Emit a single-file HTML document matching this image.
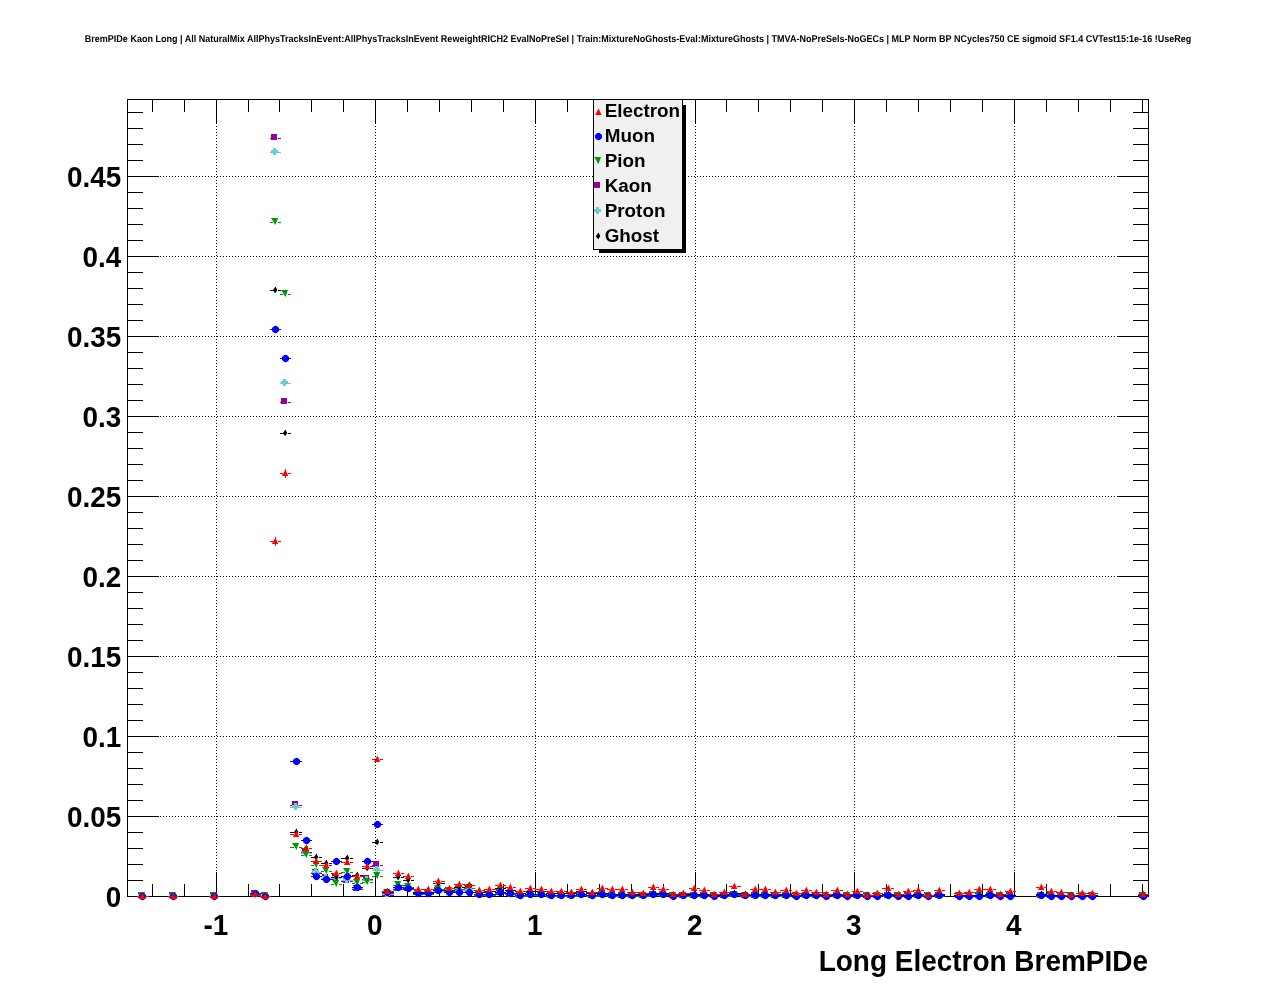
<!DOCTYPE html>
<html><head><meta charset="utf-8"><title>BremPIDe Kaon Long</title>
<style>
html,body{margin:0;padding:0;background:#fff;}
body{width:1276px;height:996px;overflow:hidden;}
svg{display:block;font-family:"Liberation Sans",sans-serif;will-change:transform;}
</style></head><body>
<svg width="1276" height="996" viewBox="0 0 1276 996">
<rect x="0" y="0" width="1276" height="996" fill="#ffffff"/>
<g shape-rendering="crispEdges" stroke="#000" stroke-width="1" stroke-dasharray="1 2">
<line x1="127" y1="816.5" x2="1149" y2="816.5"/>
<line x1="127" y1="736.5" x2="1149" y2="736.5"/>
<line x1="127" y1="656.5" x2="1149" y2="656.5"/>
<line x1="127" y1="576.5" x2="1149" y2="576.5"/>
<line x1="127" y1="496.5" x2="1149" y2="496.5"/>
<line x1="127" y1="416.5" x2="1149" y2="416.5"/>
<line x1="127" y1="336.5" x2="1149" y2="336.5"/>
<line x1="127" y1="256.5" x2="1149" y2="256.5"/>
<line x1="127" y1="176.5" x2="1149" y2="176.5"/>
<line x1="216.5" y1="99" x2="216.5" y2="897"/>
<line x1="375.5" y1="99" x2="375.5" y2="897"/>
<line x1="535.5" y1="99" x2="535.5" y2="897"/>
<line x1="695.5" y1="99" x2="695.5" y2="897"/>
<line x1="854.5" y1="99" x2="854.5" y2="897"/>
<line x1="1014.5" y1="99" x2="1014.5" y2="897"/>
</g>
<g shape-rendering="crispEdges" fill="#000">
<rect x="127" y="99" width="1022" height="1" fill="#000"/>
<rect x="127" y="896" width="1022" height="1" fill="#000"/>
<rect x="127" y="99" width="1" height="798" fill="#000"/>
<rect x="1148" y="99" width="1" height="798" fill="#000"/>
<rect x="152" y="884" width="1" height="12" fill="#000"/>
<rect x="152" y="100" width="1" height="12" fill="#000"/>
<rect x="184" y="884" width="1" height="12" fill="#000"/>
<rect x="184" y="100" width="1" height="12" fill="#000"/>
<rect x="216" y="872" width="1" height="24" fill="#000"/>
<rect x="216" y="100" width="1" height="24" fill="#000"/>
<rect x="248" y="884" width="1" height="12" fill="#000"/>
<rect x="248" y="100" width="1" height="12" fill="#000"/>
<rect x="279" y="884" width="1" height="12" fill="#000"/>
<rect x="279" y="100" width="1" height="12" fill="#000"/>
<rect x="311" y="884" width="1" height="12" fill="#000"/>
<rect x="311" y="100" width="1" height="12" fill="#000"/>
<rect x="343" y="884" width="1" height="12" fill="#000"/>
<rect x="343" y="100" width="1" height="12" fill="#000"/>
<rect x="375" y="872" width="1" height="24" fill="#000"/>
<rect x="375" y="100" width="1" height="24" fill="#000"/>
<rect x="407" y="884" width="1" height="12" fill="#000"/>
<rect x="407" y="100" width="1" height="12" fill="#000"/>
<rect x="439" y="884" width="1" height="12" fill="#000"/>
<rect x="439" y="100" width="1" height="12" fill="#000"/>
<rect x="471" y="884" width="1" height="12" fill="#000"/>
<rect x="471" y="100" width="1" height="12" fill="#000"/>
<rect x="503" y="884" width="1" height="12" fill="#000"/>
<rect x="503" y="100" width="1" height="12" fill="#000"/>
<rect x="535" y="872" width="1" height="24" fill="#000"/>
<rect x="535" y="100" width="1" height="24" fill="#000"/>
<rect x="567" y="884" width="1" height="12" fill="#000"/>
<rect x="567" y="100" width="1" height="12" fill="#000"/>
<rect x="599" y="884" width="1" height="12" fill="#000"/>
<rect x="599" y="100" width="1" height="12" fill="#000"/>
<rect x="631" y="884" width="1" height="12" fill="#000"/>
<rect x="631" y="100" width="1" height="12" fill="#000"/>
<rect x="663" y="884" width="1" height="12" fill="#000"/>
<rect x="663" y="100" width="1" height="12" fill="#000"/>
<rect x="695" y="872" width="1" height="24" fill="#000"/>
<rect x="695" y="100" width="1" height="24" fill="#000"/>
<rect x="726" y="884" width="1" height="12" fill="#000"/>
<rect x="726" y="100" width="1" height="12" fill="#000"/>
<rect x="758" y="884" width="1" height="12" fill="#000"/>
<rect x="758" y="100" width="1" height="12" fill="#000"/>
<rect x="790" y="884" width="1" height="12" fill="#000"/>
<rect x="790" y="100" width="1" height="12" fill="#000"/>
<rect x="822" y="884" width="1" height="12" fill="#000"/>
<rect x="822" y="100" width="1" height="12" fill="#000"/>
<rect x="854" y="872" width="1" height="24" fill="#000"/>
<rect x="854" y="100" width="1" height="24" fill="#000"/>
<rect x="886" y="884" width="1" height="12" fill="#000"/>
<rect x="886" y="100" width="1" height="12" fill="#000"/>
<rect x="918" y="884" width="1" height="12" fill="#000"/>
<rect x="918" y="100" width="1" height="12" fill="#000"/>
<rect x="950" y="884" width="1" height="12" fill="#000"/>
<rect x="950" y="100" width="1" height="12" fill="#000"/>
<rect x="982" y="884" width="1" height="12" fill="#000"/>
<rect x="982" y="100" width="1" height="12" fill="#000"/>
<rect x="1014" y="872" width="1" height="24" fill="#000"/>
<rect x="1014" y="100" width="1" height="24" fill="#000"/>
<rect x="1046" y="884" width="1" height="12" fill="#000"/>
<rect x="1046" y="100" width="1" height="12" fill="#000"/>
<rect x="1078" y="884" width="1" height="12" fill="#000"/>
<rect x="1078" y="100" width="1" height="12" fill="#000"/>
<rect x="1110" y="884" width="1" height="12" fill="#000"/>
<rect x="1110" y="100" width="1" height="12" fill="#000"/>
<rect x="1142" y="884" width="1" height="12" fill="#000"/>
<rect x="1142" y="100" width="1" height="12" fill="#000"/>
<rect x="128" y="896" width="31" height="1" fill="#000"/>
<rect x="1117" y="896" width="31" height="1" fill="#000"/>
<rect x="128" y="880" width="15" height="1" fill="#000"/>
<rect x="1133" y="880" width="15" height="1" fill="#000"/>
<rect x="128" y="864" width="15" height="1" fill="#000"/>
<rect x="1133" y="864" width="15" height="1" fill="#000"/>
<rect x="128" y="848" width="15" height="1" fill="#000"/>
<rect x="1133" y="848" width="15" height="1" fill="#000"/>
<rect x="128" y="832" width="15" height="1" fill="#000"/>
<rect x="1133" y="832" width="15" height="1" fill="#000"/>
<rect x="128" y="816" width="31" height="1" fill="#000"/>
<rect x="1117" y="816" width="31" height="1" fill="#000"/>
<rect x="128" y="800" width="15" height="1" fill="#000"/>
<rect x="1133" y="800" width="15" height="1" fill="#000"/>
<rect x="128" y="784" width="15" height="1" fill="#000"/>
<rect x="1133" y="784" width="15" height="1" fill="#000"/>
<rect x="128" y="768" width="15" height="1" fill="#000"/>
<rect x="1133" y="768" width="15" height="1" fill="#000"/>
<rect x="128" y="752" width="15" height="1" fill="#000"/>
<rect x="1133" y="752" width="15" height="1" fill="#000"/>
<rect x="128" y="736" width="31" height="1" fill="#000"/>
<rect x="1117" y="736" width="31" height="1" fill="#000"/>
<rect x="128" y="720" width="15" height="1" fill="#000"/>
<rect x="1133" y="720" width="15" height="1" fill="#000"/>
<rect x="128" y="704" width="15" height="1" fill="#000"/>
<rect x="1133" y="704" width="15" height="1" fill="#000"/>
<rect x="128" y="688" width="15" height="1" fill="#000"/>
<rect x="1133" y="688" width="15" height="1" fill="#000"/>
<rect x="128" y="672" width="15" height="1" fill="#000"/>
<rect x="1133" y="672" width="15" height="1" fill="#000"/>
<rect x="128" y="656" width="31" height="1" fill="#000"/>
<rect x="1117" y="656" width="31" height="1" fill="#000"/>
<rect x="128" y="640" width="15" height="1" fill="#000"/>
<rect x="1133" y="640" width="15" height="1" fill="#000"/>
<rect x="128" y="624" width="15" height="1" fill="#000"/>
<rect x="1133" y="624" width="15" height="1" fill="#000"/>
<rect x="128" y="608" width="15" height="1" fill="#000"/>
<rect x="1133" y="608" width="15" height="1" fill="#000"/>
<rect x="128" y="592" width="15" height="1" fill="#000"/>
<rect x="1133" y="592" width="15" height="1" fill="#000"/>
<rect x="128" y="576" width="31" height="1" fill="#000"/>
<rect x="1117" y="576" width="31" height="1" fill="#000"/>
<rect x="128" y="560" width="15" height="1" fill="#000"/>
<rect x="1133" y="560" width="15" height="1" fill="#000"/>
<rect x="128" y="544" width="15" height="1" fill="#000"/>
<rect x="1133" y="544" width="15" height="1" fill="#000"/>
<rect x="128" y="528" width="15" height="1" fill="#000"/>
<rect x="1133" y="528" width="15" height="1" fill="#000"/>
<rect x="128" y="512" width="15" height="1" fill="#000"/>
<rect x="1133" y="512" width="15" height="1" fill="#000"/>
<rect x="128" y="496" width="31" height="1" fill="#000"/>
<rect x="1117" y="496" width="31" height="1" fill="#000"/>
<rect x="128" y="480" width="15" height="1" fill="#000"/>
<rect x="1133" y="480" width="15" height="1" fill="#000"/>
<rect x="128" y="464" width="15" height="1" fill="#000"/>
<rect x="1133" y="464" width="15" height="1" fill="#000"/>
<rect x="128" y="448" width="15" height="1" fill="#000"/>
<rect x="1133" y="448" width="15" height="1" fill="#000"/>
<rect x="128" y="432" width="15" height="1" fill="#000"/>
<rect x="1133" y="432" width="15" height="1" fill="#000"/>
<rect x="128" y="416" width="31" height="1" fill="#000"/>
<rect x="1117" y="416" width="31" height="1" fill="#000"/>
<rect x="128" y="400" width="15" height="1" fill="#000"/>
<rect x="1133" y="400" width="15" height="1" fill="#000"/>
<rect x="128" y="384" width="15" height="1" fill="#000"/>
<rect x="1133" y="384" width="15" height="1" fill="#000"/>
<rect x="128" y="368" width="15" height="1" fill="#000"/>
<rect x="1133" y="368" width="15" height="1" fill="#000"/>
<rect x="128" y="352" width="15" height="1" fill="#000"/>
<rect x="1133" y="352" width="15" height="1" fill="#000"/>
<rect x="128" y="336" width="31" height="1" fill="#000"/>
<rect x="1117" y="336" width="31" height="1" fill="#000"/>
<rect x="128" y="320" width="15" height="1" fill="#000"/>
<rect x="1133" y="320" width="15" height="1" fill="#000"/>
<rect x="128" y="304" width="15" height="1" fill="#000"/>
<rect x="1133" y="304" width="15" height="1" fill="#000"/>
<rect x="128" y="288" width="15" height="1" fill="#000"/>
<rect x="1133" y="288" width="15" height="1" fill="#000"/>
<rect x="128" y="272" width="15" height="1" fill="#000"/>
<rect x="1133" y="272" width="15" height="1" fill="#000"/>
<rect x="128" y="256" width="31" height="1" fill="#000"/>
<rect x="1117" y="256" width="31" height="1" fill="#000"/>
<rect x="128" y="240" width="15" height="1" fill="#000"/>
<rect x="1133" y="240" width="15" height="1" fill="#000"/>
<rect x="128" y="224" width="15" height="1" fill="#000"/>
<rect x="1133" y="224" width="15" height="1" fill="#000"/>
<rect x="128" y="208" width="15" height="1" fill="#000"/>
<rect x="1133" y="208" width="15" height="1" fill="#000"/>
<rect x="128" y="192" width="15" height="1" fill="#000"/>
<rect x="1133" y="192" width="15" height="1" fill="#000"/>
<rect x="128" y="176" width="31" height="1" fill="#000"/>
<rect x="1117" y="176" width="31" height="1" fill="#000"/>
<rect x="128" y="160" width="15" height="1" fill="#000"/>
<rect x="1133" y="160" width="15" height="1" fill="#000"/>
<rect x="128" y="144" width="15" height="1" fill="#000"/>
<rect x="1133" y="144" width="15" height="1" fill="#000"/>
<rect x="128" y="128" width="15" height="1" fill="#000"/>
<rect x="1133" y="128" width="15" height="1" fill="#000"/>
<rect x="128" y="112" width="15" height="1" fill="#000"/>
<rect x="1133" y="112" width="15" height="1" fill="#000"/>
</g>
<g id="sK">
<rect x="137" y="896" width="3" height="1" fill="#990099" shape-rendering="crispEdges"/><rect x="145" y="896" width="4" height="1" fill="#990099" shape-rendering="crispEdges"/>
<rect x="138" y="892" width="6" height="6" fill="#990099" shape-rendering="crispEdges"/>
<rect x="168" y="896" width="3" height="1" fill="#990099" shape-rendering="crispEdges"/><rect x="176" y="896" width="3" height="1" fill="#990099" shape-rendering="crispEdges"/>
<rect x="169" y="892" width="6" height="6" fill="#990099" shape-rendering="crispEdges"/>
<rect x="209" y="896" width="3" height="1" fill="#990099" shape-rendering="crispEdges"/><rect x="217" y="896" width="3" height="1" fill="#990099" shape-rendering="crispEdges"/>
<rect x="210" y="892" width="6" height="6" fill="#990099" shape-rendering="crispEdges"/>
<rect x="250" y="894" width="3" height="1" fill="#990099" shape-rendering="crispEdges"/><rect x="258" y="894" width="3" height="1" fill="#990099" shape-rendering="crispEdges"/>
<rect x="251" y="890" width="6" height="6" fill="#990099" shape-rendering="crispEdges"/>
<rect x="260" y="896" width="3" height="1" fill="#990099" shape-rendering="crispEdges"/><rect x="268" y="896" width="3" height="1" fill="#990099" shape-rendering="crispEdges"/>
<rect x="261" y="892" width="6" height="6" fill="#990099" shape-rendering="crispEdges"/>
<rect x="270" y="138" width="3" height="1" fill="#990099" shape-rendering="crispEdges"/><rect x="278" y="138" width="3" height="1" fill="#990099" shape-rendering="crispEdges"/>
<rect x="271" y="134" width="6" height="6" fill="#990099" shape-rendering="crispEdges"/>
<rect x="280" y="402" width="3" height="1" fill="#990099" shape-rendering="crispEdges"/><rect x="288" y="402" width="3" height="1" fill="#990099" shape-rendering="crispEdges"/>
<rect x="281" y="398" width="6" height="6" fill="#990099" shape-rendering="crispEdges"/>
<rect x="290" y="805" width="4" height="1" fill="#990099" shape-rendering="crispEdges"/><rect x="299" y="805" width="3" height="1" fill="#990099" shape-rendering="crispEdges"/>
<rect x="292" y="801" width="6" height="6" fill="#990099" shape-rendering="crispEdges"/>
<rect x="301" y="852" width="3" height="1" fill="#990099" shape-rendering="crispEdges"/><rect x="309" y="852" width="3" height="1" fill="#990099" shape-rendering="crispEdges"/>
<rect x="302" y="848" width="6" height="6" fill="#990099" shape-rendering="crispEdges"/>
<rect x="311" y="873" width="3" height="1" fill="#990099" shape-rendering="crispEdges"/><rect x="319" y="873" width="3" height="1" fill="#990099" shape-rendering="crispEdges"/>
<rect x="312" y="869" width="6" height="6" fill="#990099" shape-rendering="crispEdges"/>
<rect x="321" y="878" width="3" height="1" fill="#990099" shape-rendering="crispEdges"/><rect x="329" y="878" width="3" height="1" fill="#990099" shape-rendering="crispEdges"/>
<rect x="322" y="874" width="6" height="6" fill="#990099" shape-rendering="crispEdges"/>
<rect x="331" y="878" width="3" height="1" fill="#990099" shape-rendering="crispEdges"/><rect x="339" y="878" width="3" height="1" fill="#990099" shape-rendering="crispEdges"/>
<rect x="332" y="874" width="6" height="6" fill="#990099" shape-rendering="crispEdges"/>
<rect x="341" y="881" width="4" height="1" fill="#990099" shape-rendering="crispEdges"/><rect x="350" y="881" width="3" height="1" fill="#990099" shape-rendering="crispEdges"/>
<rect x="343" y="877" width="6" height="6" fill="#990099" shape-rendering="crispEdges"/>
<rect x="352" y="889" width="3" height="1" fill="#990099" shape-rendering="crispEdges"/><rect x="360" y="889" width="3" height="1" fill="#990099" shape-rendering="crispEdges"/>
<rect x="353" y="885" width="6" height="6" fill="#990099" shape-rendering="crispEdges"/>
<rect x="362" y="879" width="3" height="1" fill="#990099" shape-rendering="crispEdges"/><rect x="370" y="879" width="3" height="1" fill="#990099" shape-rendering="crispEdges"/>
<rect x="363" y="875" width="6" height="6" fill="#990099" shape-rendering="crispEdges"/>
<rect x="372" y="865" width="3" height="1" fill="#990099" shape-rendering="crispEdges"/><rect x="380" y="865" width="3" height="1" fill="#990099" shape-rendering="crispEdges"/>
<rect x="373" y="861" width="6" height="6" fill="#990099" shape-rendering="crispEdges"/>
<rect x="382" y="895" width="3" height="1" fill="#990099" shape-rendering="crispEdges"/><rect x="390" y="895" width="4" height="1" fill="#990099" shape-rendering="crispEdges"/>
<rect x="383" y="891" width="6" height="6" fill="#990099" shape-rendering="crispEdges"/>
<rect x="393" y="889" width="3" height="1" fill="#990099" shape-rendering="crispEdges"/><rect x="401" y="889" width="3" height="1" fill="#990099" shape-rendering="crispEdges"/>
<rect x="394" y="885" width="6" height="6" fill="#990099" shape-rendering="crispEdges"/>
<rect x="403" y="889" width="3" height="1" fill="#990099" shape-rendering="crispEdges"/><rect x="411" y="889" width="3" height="1" fill="#990099" shape-rendering="crispEdges"/>
<rect x="404" y="885" width="6" height="6" fill="#990099" shape-rendering="crispEdges"/>
<rect x="413" y="893" width="3" height="1" fill="#990099" shape-rendering="crispEdges"/><rect x="421" y="893" width="3" height="1" fill="#990099" shape-rendering="crispEdges"/>
<rect x="414" y="889" width="6" height="6" fill="#990099" shape-rendering="crispEdges"/>
<rect x="423" y="893" width="3" height="1" fill="#990099" shape-rendering="crispEdges"/><rect x="431" y="893" width="3" height="1" fill="#990099" shape-rendering="crispEdges"/>
<rect x="424" y="889" width="6" height="6" fill="#990099" shape-rendering="crispEdges"/>
<rect x="433" y="891" width="3" height="1" fill="#990099" shape-rendering="crispEdges"/><rect x="441" y="891" width="4" height="1" fill="#990099" shape-rendering="crispEdges"/>
<rect x="434" y="887" width="6" height="6" fill="#990099" shape-rendering="crispEdges"/>
<rect x="444" y="891" width="3" height="1" fill="#990099" shape-rendering="crispEdges"/><rect x="452" y="891" width="3" height="1" fill="#990099" shape-rendering="crispEdges"/>
<rect x="445" y="887" width="6" height="6" fill="#990099" shape-rendering="crispEdges"/>
<rect x="454" y="890" width="3" height="1" fill="#990099" shape-rendering="crispEdges"/><rect x="462" y="890" width="3" height="1" fill="#990099" shape-rendering="crispEdges"/>
<rect x="455" y="886" width="6" height="6" fill="#990099" shape-rendering="crispEdges"/>
<rect x="464" y="890" width="3" height="1" fill="#990099" shape-rendering="crispEdges"/><rect x="472" y="890" width="3" height="1" fill="#990099" shape-rendering="crispEdges"/>
<rect x="465" y="886" width="6" height="6" fill="#990099" shape-rendering="crispEdges"/>
<rect x="474" y="895" width="3" height="1" fill="#990099" shape-rendering="crispEdges"/><rect x="482" y="895" width="3" height="1" fill="#990099" shape-rendering="crispEdges"/>
<rect x="475" y="891" width="6" height="6" fill="#990099" shape-rendering="crispEdges"/>
<rect x="484" y="895" width="3" height="1" fill="#990099" shape-rendering="crispEdges"/><rect x="492" y="895" width="4" height="1" fill="#990099" shape-rendering="crispEdges"/>
<rect x="485" y="891" width="6" height="6" fill="#990099" shape-rendering="crispEdges"/>
<rect x="495" y="893" width="3" height="1" fill="#990099" shape-rendering="crispEdges"/><rect x="503" y="893" width="3" height="1" fill="#990099" shape-rendering="crispEdges"/>
<rect x="496" y="889" width="6" height="6" fill="#990099" shape-rendering="crispEdges"/>
<rect x="505" y="894" width="3" height="1" fill="#990099" shape-rendering="crispEdges"/><rect x="513" y="894" width="3" height="1" fill="#990099" shape-rendering="crispEdges"/>
<rect x="506" y="890" width="6" height="6" fill="#990099" shape-rendering="crispEdges"/>
<rect x="515" y="896" width="3" height="1" fill="#990099" shape-rendering="crispEdges"/><rect x="523" y="896" width="3" height="1" fill="#990099" shape-rendering="crispEdges"/>
<rect x="516" y="892" width="6" height="6" fill="#990099" shape-rendering="crispEdges"/>
<rect x="525" y="895" width="3" height="1" fill="#990099" shape-rendering="crispEdges"/><rect x="533" y="895" width="3" height="1" fill="#990099" shape-rendering="crispEdges"/>
<rect x="526" y="891" width="6" height="6" fill="#990099" shape-rendering="crispEdges"/>
<rect x="535" y="895" width="4" height="1" fill="#990099" shape-rendering="crispEdges"/><rect x="544" y="895" width="3" height="1" fill="#990099" shape-rendering="crispEdges"/>
<rect x="537" y="891" width="6" height="6" fill="#990099" shape-rendering="crispEdges"/>
<rect x="546" y="896" width="3" height="1" fill="#990099" shape-rendering="crispEdges"/><rect x="554" y="896" width="3" height="1" fill="#990099" shape-rendering="crispEdges"/>
<rect x="547" y="892" width="6" height="6" fill="#990099" shape-rendering="crispEdges"/>
<rect x="556" y="896" width="3" height="1" fill="#990099" shape-rendering="crispEdges"/><rect x="564" y="896" width="3" height="1" fill="#990099" shape-rendering="crispEdges"/>
<rect x="557" y="892" width="6" height="6" fill="#990099" shape-rendering="crispEdges"/>
<rect x="566" y="896" width="3" height="1" fill="#990099" shape-rendering="crispEdges"/><rect x="574" y="896" width="3" height="1" fill="#990099" shape-rendering="crispEdges"/>
<rect x="567" y="892" width="6" height="6" fill="#990099" shape-rendering="crispEdges"/>
<rect x="576" y="895" width="3" height="1" fill="#990099" shape-rendering="crispEdges"/><rect x="584" y="895" width="3" height="1" fill="#990099" shape-rendering="crispEdges"/>
<rect x="577" y="891" width="6" height="6" fill="#990099" shape-rendering="crispEdges"/>
<rect x="586" y="896" width="4" height="1" fill="#990099" shape-rendering="crispEdges"/><rect x="595" y="896" width="3" height="1" fill="#990099" shape-rendering="crispEdges"/>
<rect x="588" y="892" width="6" height="6" fill="#990099" shape-rendering="crispEdges"/>
<rect x="597" y="895" width="3" height="1" fill="#990099" shape-rendering="crispEdges"/><rect x="605" y="895" width="3" height="1" fill="#990099" shape-rendering="crispEdges"/>
<rect x="598" y="891" width="6" height="6" fill="#990099" shape-rendering="crispEdges"/>
<rect x="607" y="896" width="3" height="1" fill="#990099" shape-rendering="crispEdges"/><rect x="615" y="896" width="3" height="1" fill="#990099" shape-rendering="crispEdges"/>
<rect x="608" y="892" width="6" height="6" fill="#990099" shape-rendering="crispEdges"/>
<rect x="617" y="896" width="3" height="1" fill="#990099" shape-rendering="crispEdges"/><rect x="625" y="896" width="3" height="1" fill="#990099" shape-rendering="crispEdges"/>
<rect x="618" y="892" width="6" height="6" fill="#990099" shape-rendering="crispEdges"/>
<rect x="627" y="896" width="3" height="1" fill="#990099" shape-rendering="crispEdges"/><rect x="635" y="896" width="4" height="1" fill="#990099" shape-rendering="crispEdges"/>
<rect x="628" y="892" width="6" height="6" fill="#990099" shape-rendering="crispEdges"/>
<rect x="638" y="896" width="3" height="1" fill="#990099" shape-rendering="crispEdges"/><rect x="646" y="896" width="3" height="1" fill="#990099" shape-rendering="crispEdges"/>
<rect x="639" y="892" width="6" height="6" fill="#990099" shape-rendering="crispEdges"/>
<rect x="648" y="895" width="3" height="1" fill="#990099" shape-rendering="crispEdges"/><rect x="656" y="895" width="3" height="1" fill="#990099" shape-rendering="crispEdges"/>
<rect x="649" y="891" width="6" height="6" fill="#990099" shape-rendering="crispEdges"/>
<rect x="658" y="895" width="3" height="1" fill="#990099" shape-rendering="crispEdges"/><rect x="666" y="895" width="3" height="1" fill="#990099" shape-rendering="crispEdges"/>
<rect x="659" y="891" width="6" height="6" fill="#990099" shape-rendering="crispEdges"/>
<rect x="668" y="896" width="3" height="1" fill="#990099" shape-rendering="crispEdges"/><rect x="676" y="896" width="3" height="1" fill="#990099" shape-rendering="crispEdges"/>
<rect x="669" y="892" width="6" height="6" fill="#990099" shape-rendering="crispEdges"/>
<rect x="678" y="896" width="3" height="1" fill="#990099" shape-rendering="crispEdges"/><rect x="686" y="896" width="4" height="1" fill="#990099" shape-rendering="crispEdges"/>
<rect x="679" y="892" width="6" height="6" fill="#990099" shape-rendering="crispEdges"/>
<rect x="689" y="896" width="3" height="1" fill="#990099" shape-rendering="crispEdges"/><rect x="697" y="896" width="3" height="1" fill="#990099" shape-rendering="crispEdges"/>
<rect x="690" y="892" width="6" height="6" fill="#990099" shape-rendering="crispEdges"/>
<rect x="699" y="896" width="3" height="1" fill="#990099" shape-rendering="crispEdges"/><rect x="707" y="896" width="3" height="1" fill="#990099" shape-rendering="crispEdges"/>
<rect x="700" y="892" width="6" height="6" fill="#990099" shape-rendering="crispEdges"/>
<rect x="709" y="896" width="3" height="1" fill="#990099" shape-rendering="crispEdges"/><rect x="717" y="896" width="3" height="1" fill="#990099" shape-rendering="crispEdges"/>
<rect x="710" y="892" width="6" height="6" fill="#990099" shape-rendering="crispEdges"/>
<rect x="719" y="896" width="3" height="1" fill="#990099" shape-rendering="crispEdges"/><rect x="727" y="896" width="3" height="1" fill="#990099" shape-rendering="crispEdges"/>
<rect x="720" y="892" width="6" height="6" fill="#990099" shape-rendering="crispEdges"/>
<rect x="729" y="895" width="3" height="1" fill="#990099" shape-rendering="crispEdges"/><rect x="737" y="895" width="4" height="1" fill="#990099" shape-rendering="crispEdges"/>
<rect x="730" y="891" width="6" height="6" fill="#990099" shape-rendering="crispEdges"/>
<rect x="740" y="896" width="3" height="1" fill="#990099" shape-rendering="crispEdges"/><rect x="748" y="896" width="3" height="1" fill="#990099" shape-rendering="crispEdges"/>
<rect x="741" y="892" width="6" height="6" fill="#990099" shape-rendering="crispEdges"/>
<rect x="750" y="896" width="3" height="1" fill="#990099" shape-rendering="crispEdges"/><rect x="758" y="896" width="3" height="1" fill="#990099" shape-rendering="crispEdges"/>
<rect x="751" y="892" width="6" height="6" fill="#990099" shape-rendering="crispEdges"/>
<rect x="760" y="896" width="3" height="1" fill="#990099" shape-rendering="crispEdges"/><rect x="768" y="896" width="3" height="1" fill="#990099" shape-rendering="crispEdges"/>
<rect x="761" y="892" width="6" height="6" fill="#990099" shape-rendering="crispEdges"/>
<rect x="770" y="896" width="3" height="1" fill="#990099" shape-rendering="crispEdges"/><rect x="778" y="896" width="3" height="1" fill="#990099" shape-rendering="crispEdges"/>
<rect x="771" y="892" width="6" height="6" fill="#990099" shape-rendering="crispEdges"/>
<rect x="780" y="896" width="4" height="1" fill="#990099" shape-rendering="crispEdges"/><rect x="789" y="896" width="3" height="1" fill="#990099" shape-rendering="crispEdges"/>
<rect x="782" y="892" width="6" height="6" fill="#990099" shape-rendering="crispEdges"/>
<rect x="791" y="896" width="3" height="1" fill="#990099" shape-rendering="crispEdges"/><rect x="799" y="896" width="3" height="1" fill="#990099" shape-rendering="crispEdges"/>
<rect x="792" y="892" width="6" height="6" fill="#990099" shape-rendering="crispEdges"/>
<rect x="801" y="896" width="3" height="1" fill="#990099" shape-rendering="crispEdges"/><rect x="809" y="896" width="3" height="1" fill="#990099" shape-rendering="crispEdges"/>
<rect x="802" y="892" width="6" height="6" fill="#990099" shape-rendering="crispEdges"/>
<rect x="811" y="896" width="3" height="1" fill="#990099" shape-rendering="crispEdges"/><rect x="819" y="896" width="3" height="1" fill="#990099" shape-rendering="crispEdges"/>
<rect x="812" y="892" width="6" height="6" fill="#990099" shape-rendering="crispEdges"/>
<rect x="821" y="896" width="3" height="1" fill="#990099" shape-rendering="crispEdges"/><rect x="829" y="896" width="3" height="1" fill="#990099" shape-rendering="crispEdges"/>
<rect x="822" y="892" width="6" height="6" fill="#990099" shape-rendering="crispEdges"/>
<rect x="831" y="896" width="4" height="1" fill="#990099" shape-rendering="crispEdges"/><rect x="840" y="896" width="3" height="1" fill="#990099" shape-rendering="crispEdges"/>
<rect x="833" y="892" width="6" height="6" fill="#990099" shape-rendering="crispEdges"/>
<rect x="842" y="896" width="3" height="1" fill="#990099" shape-rendering="crispEdges"/><rect x="850" y="896" width="3" height="1" fill="#990099" shape-rendering="crispEdges"/>
<rect x="843" y="892" width="6" height="6" fill="#990099" shape-rendering="crispEdges"/>
<rect x="852" y="896" width="3" height="1" fill="#990099" shape-rendering="crispEdges"/><rect x="860" y="896" width="3" height="1" fill="#990099" shape-rendering="crispEdges"/>
<rect x="853" y="892" width="6" height="6" fill="#990099" shape-rendering="crispEdges"/>
<rect x="862" y="896" width="3" height="1" fill="#990099" shape-rendering="crispEdges"/><rect x="870" y="896" width="3" height="1" fill="#990099" shape-rendering="crispEdges"/>
<rect x="863" y="892" width="6" height="6" fill="#990099" shape-rendering="crispEdges"/>
<rect x="872" y="896" width="3" height="1" fill="#990099" shape-rendering="crispEdges"/><rect x="880" y="896" width="3" height="1" fill="#990099" shape-rendering="crispEdges"/>
<rect x="873" y="892" width="6" height="6" fill="#990099" shape-rendering="crispEdges"/>
<rect x="882" y="896" width="4" height="1" fill="#990099" shape-rendering="crispEdges"/><rect x="891" y="896" width="3" height="1" fill="#990099" shape-rendering="crispEdges"/>
<rect x="884" y="892" width="6" height="6" fill="#990099" shape-rendering="crispEdges"/>
<rect x="893" y="896" width="3" height="1" fill="#990099" shape-rendering="crispEdges"/><rect x="901" y="896" width="3" height="1" fill="#990099" shape-rendering="crispEdges"/>
<rect x="894" y="892" width="6" height="6" fill="#990099" shape-rendering="crispEdges"/>
<rect x="903" y="896" width="3" height="1" fill="#990099" shape-rendering="crispEdges"/><rect x="911" y="896" width="3" height="1" fill="#990099" shape-rendering="crispEdges"/>
<rect x="904" y="892" width="6" height="6" fill="#990099" shape-rendering="crispEdges"/>
<rect x="913" y="896" width="3" height="1" fill="#990099" shape-rendering="crispEdges"/><rect x="921" y="896" width="3" height="1" fill="#990099" shape-rendering="crispEdges"/>
<rect x="914" y="892" width="6" height="6" fill="#990099" shape-rendering="crispEdges"/>
<rect x="923" y="896" width="3" height="1" fill="#990099" shape-rendering="crispEdges"/><rect x="931" y="896" width="4" height="1" fill="#990099" shape-rendering="crispEdges"/>
<rect x="924" y="892" width="6" height="6" fill="#990099" shape-rendering="crispEdges"/>
<rect x="934" y="896" width="3" height="1" fill="#990099" shape-rendering="crispEdges"/><rect x="942" y="896" width="3" height="1" fill="#990099" shape-rendering="crispEdges"/>
<rect x="935" y="892" width="6" height="6" fill="#990099" shape-rendering="crispEdges"/>
<rect x="954" y="896" width="3" height="1" fill="#990099" shape-rendering="crispEdges"/><rect x="962" y="896" width="3" height="1" fill="#990099" shape-rendering="crispEdges"/>
<rect x="955" y="892" width="6" height="6" fill="#990099" shape-rendering="crispEdges"/>
<rect x="964" y="896" width="3" height="1" fill="#990099" shape-rendering="crispEdges"/><rect x="972" y="896" width="3" height="1" fill="#990099" shape-rendering="crispEdges"/>
<rect x="965" y="892" width="6" height="6" fill="#990099" shape-rendering="crispEdges"/>
<rect x="974" y="896" width="3" height="1" fill="#990099" shape-rendering="crispEdges"/><rect x="982" y="896" width="4" height="1" fill="#990099" shape-rendering="crispEdges"/>
<rect x="975" y="892" width="6" height="6" fill="#990099" shape-rendering="crispEdges"/>
<rect x="985" y="896" width="3" height="1" fill="#990099" shape-rendering="crispEdges"/><rect x="993" y="896" width="3" height="1" fill="#990099" shape-rendering="crispEdges"/>
<rect x="986" y="892" width="6" height="6" fill="#990099" shape-rendering="crispEdges"/>
<rect x="995" y="896" width="3" height="1" fill="#990099" shape-rendering="crispEdges"/><rect x="1003" y="896" width="3" height="1" fill="#990099" shape-rendering="crispEdges"/>
<rect x="996" y="892" width="6" height="6" fill="#990099" shape-rendering="crispEdges"/>
<rect x="1005" y="896" width="3" height="1" fill="#990099" shape-rendering="crispEdges"/><rect x="1013" y="896" width="3" height="1" fill="#990099" shape-rendering="crispEdges"/>
<rect x="1006" y="892" width="6" height="6" fill="#990099" shape-rendering="crispEdges"/>
<rect x="1036" y="896" width="3" height="1" fill="#990099" shape-rendering="crispEdges"/><rect x="1044" y="896" width="3" height="1" fill="#990099" shape-rendering="crispEdges"/>
<rect x="1037" y="892" width="6" height="6" fill="#990099" shape-rendering="crispEdges"/>
<rect x="1046" y="896" width="3" height="1" fill="#990099" shape-rendering="crispEdges"/><rect x="1054" y="896" width="3" height="1" fill="#990099" shape-rendering="crispEdges"/>
<rect x="1047" y="892" width="6" height="6" fill="#990099" shape-rendering="crispEdges"/>
<rect x="1056" y="896" width="3" height="1" fill="#990099" shape-rendering="crispEdges"/><rect x="1064" y="896" width="3" height="1" fill="#990099" shape-rendering="crispEdges"/>
<rect x="1057" y="892" width="6" height="6" fill="#990099" shape-rendering="crispEdges"/>
<rect x="1066" y="896" width="3" height="1" fill="#990099" shape-rendering="crispEdges"/><rect x="1074" y="896" width="3" height="1" fill="#990099" shape-rendering="crispEdges"/>
<rect x="1067" y="892" width="6" height="6" fill="#990099" shape-rendering="crispEdges"/>
<rect x="1076" y="896" width="4" height="1" fill="#990099" shape-rendering="crispEdges"/><rect x="1085" y="896" width="3" height="1" fill="#990099" shape-rendering="crispEdges"/>
<rect x="1078" y="892" width="6" height="6" fill="#990099" shape-rendering="crispEdges"/>
<rect x="1087" y="896" width="3" height="1" fill="#990099" shape-rendering="crispEdges"/><rect x="1095" y="896" width="3" height="1" fill="#990099" shape-rendering="crispEdges"/>
<rect x="1088" y="892" width="6" height="6" fill="#990099" shape-rendering="crispEdges"/>
<rect x="1138" y="896" width="3" height="1" fill="#990099" shape-rendering="crispEdges"/><rect x="1146" y="896" width="3" height="1" fill="#990099" shape-rendering="crispEdges"/>
<rect x="1139" y="892" width="6" height="6" fill="#990099" shape-rendering="crispEdges"/>
</g>
<g id="sR">
<rect x="137" y="896" width="3" height="1" fill="#66cccc" shape-rendering="crispEdges"/><rect x="145" y="896" width="4" height="1" fill="#66cccc" shape-rendering="crispEdges"/>
<g fill="#66cccc" shape-rendering="crispEdges"><rect x="140" y="892" width="3" height="7"/><rect x="138" y="894" width="7" height="3"/></g>
<rect x="168" y="896" width="3" height="1" fill="#66cccc" shape-rendering="crispEdges"/><rect x="176" y="896" width="3" height="1" fill="#66cccc" shape-rendering="crispEdges"/>
<g fill="#66cccc" shape-rendering="crispEdges"><rect x="171" y="892" width="3" height="7"/><rect x="169" y="894" width="7" height="3"/></g>
<rect x="209" y="896" width="3" height="1" fill="#66cccc" shape-rendering="crispEdges"/><rect x="217" y="896" width="3" height="1" fill="#66cccc" shape-rendering="crispEdges"/>
<g fill="#66cccc" shape-rendering="crispEdges"><rect x="212" y="892" width="3" height="7"/><rect x="210" y="894" width="7" height="3"/></g>
<rect x="250" y="894" width="3" height="1" fill="#66cccc" shape-rendering="crispEdges"/><rect x="258" y="894" width="3" height="1" fill="#66cccc" shape-rendering="crispEdges"/>
<g fill="#66cccc" shape-rendering="crispEdges"><rect x="253" y="890" width="3" height="7"/><rect x="251" y="892" width="7" height="3"/></g>
<rect x="260" y="896" width="3" height="1" fill="#66cccc" shape-rendering="crispEdges"/><rect x="268" y="896" width="3" height="1" fill="#66cccc" shape-rendering="crispEdges"/>
<g fill="#66cccc" shape-rendering="crispEdges"><rect x="263" y="892" width="3" height="7"/><rect x="261" y="894" width="7" height="3"/></g>
<rect x="270" y="152" width="3" height="1" fill="#66cccc" shape-rendering="crispEdges"/><rect x="278" y="152" width="3" height="1" fill="#66cccc" shape-rendering="crispEdges"/>
<g fill="#66cccc" shape-rendering="crispEdges"><rect x="273" y="148" width="3" height="7"/><rect x="271" y="150" width="7" height="3"/></g>
<rect x="280" y="383" width="3" height="1" fill="#66cccc" shape-rendering="crispEdges"/><rect x="288" y="383" width="3" height="1" fill="#66cccc" shape-rendering="crispEdges"/>
<g fill="#66cccc" shape-rendering="crispEdges"><rect x="283" y="379" width="3" height="7"/><rect x="281" y="381" width="7" height="3"/></g>
<rect x="290" y="807" width="4" height="1" fill="#66cccc" shape-rendering="crispEdges"/><rect x="299" y="807" width="3" height="1" fill="#66cccc" shape-rendering="crispEdges"/>
<g fill="#66cccc" shape-rendering="crispEdges"><rect x="294" y="803" width="3" height="7"/><rect x="292" y="805" width="7" height="3"/></g>
<rect x="301" y="853" width="3" height="1" fill="#66cccc" shape-rendering="crispEdges"/><rect x="309" y="853" width="3" height="1" fill="#66cccc" shape-rendering="crispEdges"/>
<g fill="#66cccc" shape-rendering="crispEdges"><rect x="304" y="849" width="3" height="7"/><rect x="302" y="851" width="7" height="3"/></g>
<rect x="311" y="872" width="3" height="1" fill="#66cccc" shape-rendering="crispEdges"/><rect x="319" y="872" width="3" height="1" fill="#66cccc" shape-rendering="crispEdges"/>
<g fill="#66cccc" shape-rendering="crispEdges"><rect x="314" y="868" width="3" height="7"/><rect x="312" y="870" width="7" height="3"/></g>
<rect x="321" y="878" width="3" height="1" fill="#66cccc" shape-rendering="crispEdges"/><rect x="329" y="878" width="3" height="1" fill="#66cccc" shape-rendering="crispEdges"/>
<g fill="#66cccc" shape-rendering="crispEdges"><rect x="324" y="874" width="3" height="7"/><rect x="322" y="876" width="7" height="3"/></g>
<rect x="331" y="878" width="3" height="1" fill="#66cccc" shape-rendering="crispEdges"/><rect x="339" y="878" width="3" height="1" fill="#66cccc" shape-rendering="crispEdges"/>
<g fill="#66cccc" shape-rendering="crispEdges"><rect x="334" y="874" width="3" height="7"/><rect x="332" y="876" width="7" height="3"/></g>
<rect x="341" y="880" width="4" height="1" fill="#66cccc" shape-rendering="crispEdges"/><rect x="350" y="880" width="3" height="1" fill="#66cccc" shape-rendering="crispEdges"/>
<g fill="#66cccc" shape-rendering="crispEdges"><rect x="345" y="876" width="3" height="7"/><rect x="343" y="878" width="7" height="3"/></g>
<rect x="352" y="888" width="3" height="1" fill="#66cccc" shape-rendering="crispEdges"/><rect x="360" y="888" width="3" height="1" fill="#66cccc" shape-rendering="crispEdges"/>
<g fill="#66cccc" shape-rendering="crispEdges"><rect x="355" y="884" width="3" height="7"/><rect x="353" y="886" width="7" height="3"/></g>
<rect x="362" y="880" width="3" height="1" fill="#66cccc" shape-rendering="crispEdges"/><rect x="370" y="880" width="3" height="1" fill="#66cccc" shape-rendering="crispEdges"/>
<g fill="#66cccc" shape-rendering="crispEdges"><rect x="365" y="876" width="3" height="7"/><rect x="363" y="878" width="7" height="3"/></g>
<rect x="372" y="870" width="3" height="1" fill="#66cccc" shape-rendering="crispEdges"/><rect x="380" y="870" width="3" height="1" fill="#66cccc" shape-rendering="crispEdges"/>
<g fill="#66cccc" shape-rendering="crispEdges"><rect x="375" y="866" width="3" height="7"/><rect x="373" y="868" width="7" height="3"/></g>
<rect x="382" y="894" width="3" height="1" fill="#66cccc" shape-rendering="crispEdges"/><rect x="390" y="894" width="4" height="1" fill="#66cccc" shape-rendering="crispEdges"/>
<g fill="#66cccc" shape-rendering="crispEdges"><rect x="385" y="890" width="3" height="7"/><rect x="383" y="892" width="7" height="3"/></g>
<rect x="393" y="888" width="3" height="1" fill="#66cccc" shape-rendering="crispEdges"/><rect x="401" y="888" width="3" height="1" fill="#66cccc" shape-rendering="crispEdges"/>
<g fill="#66cccc" shape-rendering="crispEdges"><rect x="396" y="884" width="3" height="7"/><rect x="394" y="886" width="7" height="3"/></g>
<rect x="403" y="888" width="3" height="1" fill="#66cccc" shape-rendering="crispEdges"/><rect x="411" y="888" width="3" height="1" fill="#66cccc" shape-rendering="crispEdges"/>
<g fill="#66cccc" shape-rendering="crispEdges"><rect x="406" y="884" width="3" height="7"/><rect x="404" y="886" width="7" height="3"/></g>
<rect x="413" y="893" width="3" height="1" fill="#66cccc" shape-rendering="crispEdges"/><rect x="421" y="893" width="3" height="1" fill="#66cccc" shape-rendering="crispEdges"/>
<g fill="#66cccc" shape-rendering="crispEdges"><rect x="416" y="889" width="3" height="7"/><rect x="414" y="891" width="7" height="3"/></g>
<rect x="423" y="893" width="3" height="1" fill="#66cccc" shape-rendering="crispEdges"/><rect x="431" y="893" width="3" height="1" fill="#66cccc" shape-rendering="crispEdges"/>
<g fill="#66cccc" shape-rendering="crispEdges"><rect x="426" y="889" width="3" height="7"/><rect x="424" y="891" width="7" height="3"/></g>
<rect x="433" y="891" width="3" height="1" fill="#66cccc" shape-rendering="crispEdges"/><rect x="441" y="891" width="4" height="1" fill="#66cccc" shape-rendering="crispEdges"/>
<g fill="#66cccc" shape-rendering="crispEdges"><rect x="436" y="887" width="3" height="7"/><rect x="434" y="889" width="7" height="3"/></g>
<rect x="444" y="891" width="3" height="1" fill="#66cccc" shape-rendering="crispEdges"/><rect x="452" y="891" width="3" height="1" fill="#66cccc" shape-rendering="crispEdges"/>
<g fill="#66cccc" shape-rendering="crispEdges"><rect x="447" y="887" width="3" height="7"/><rect x="445" y="889" width="7" height="3"/></g>
<rect x="454" y="890" width="3" height="1" fill="#66cccc" shape-rendering="crispEdges"/><rect x="462" y="890" width="3" height="1" fill="#66cccc" shape-rendering="crispEdges"/>
<g fill="#66cccc" shape-rendering="crispEdges"><rect x="457" y="886" width="3" height="7"/><rect x="455" y="888" width="7" height="3"/></g>
<rect x="464" y="890" width="3" height="1" fill="#66cccc" shape-rendering="crispEdges"/><rect x="472" y="890" width="3" height="1" fill="#66cccc" shape-rendering="crispEdges"/>
<g fill="#66cccc" shape-rendering="crispEdges"><rect x="467" y="886" width="3" height="7"/><rect x="465" y="888" width="7" height="3"/></g>
<rect x="474" y="895" width="3" height="1" fill="#66cccc" shape-rendering="crispEdges"/><rect x="482" y="895" width="3" height="1" fill="#66cccc" shape-rendering="crispEdges"/>
<g fill="#66cccc" shape-rendering="crispEdges"><rect x="477" y="891" width="3" height="7"/><rect x="475" y="893" width="7" height="3"/></g>
<rect x="484" y="895" width="3" height="1" fill="#66cccc" shape-rendering="crispEdges"/><rect x="492" y="895" width="4" height="1" fill="#66cccc" shape-rendering="crispEdges"/>
<g fill="#66cccc" shape-rendering="crispEdges"><rect x="487" y="891" width="3" height="7"/><rect x="485" y="893" width="7" height="3"/></g>
<rect x="495" y="893" width="3" height="1" fill="#66cccc" shape-rendering="crispEdges"/><rect x="503" y="893" width="3" height="1" fill="#66cccc" shape-rendering="crispEdges"/>
<g fill="#66cccc" shape-rendering="crispEdges"><rect x="498" y="889" width="3" height="7"/><rect x="496" y="891" width="7" height="3"/></g>
<rect x="505" y="894" width="3" height="1" fill="#66cccc" shape-rendering="crispEdges"/><rect x="513" y="894" width="3" height="1" fill="#66cccc" shape-rendering="crispEdges"/>
<g fill="#66cccc" shape-rendering="crispEdges"><rect x="508" y="890" width="3" height="7"/><rect x="506" y="892" width="7" height="3"/></g>
<rect x="515" y="896" width="3" height="1" fill="#66cccc" shape-rendering="crispEdges"/><rect x="523" y="896" width="3" height="1" fill="#66cccc" shape-rendering="crispEdges"/>
<g fill="#66cccc" shape-rendering="crispEdges"><rect x="518" y="892" width="3" height="7"/><rect x="516" y="894" width="7" height="3"/></g>
<rect x="525" y="895" width="3" height="1" fill="#66cccc" shape-rendering="crispEdges"/><rect x="533" y="895" width="3" height="1" fill="#66cccc" shape-rendering="crispEdges"/>
<g fill="#66cccc" shape-rendering="crispEdges"><rect x="528" y="891" width="3" height="7"/><rect x="526" y="893" width="7" height="3"/></g>
<rect x="535" y="895" width="4" height="1" fill="#66cccc" shape-rendering="crispEdges"/><rect x="544" y="895" width="3" height="1" fill="#66cccc" shape-rendering="crispEdges"/>
<g fill="#66cccc" shape-rendering="crispEdges"><rect x="539" y="891" width="3" height="7"/><rect x="537" y="893" width="7" height="3"/></g>
<rect x="546" y="896" width="3" height="1" fill="#66cccc" shape-rendering="crispEdges"/><rect x="554" y="896" width="3" height="1" fill="#66cccc" shape-rendering="crispEdges"/>
<g fill="#66cccc" shape-rendering="crispEdges"><rect x="549" y="892" width="3" height="7"/><rect x="547" y="894" width="7" height="3"/></g>
<rect x="556" y="896" width="3" height="1" fill="#66cccc" shape-rendering="crispEdges"/><rect x="564" y="896" width="3" height="1" fill="#66cccc" shape-rendering="crispEdges"/>
<g fill="#66cccc" shape-rendering="crispEdges"><rect x="559" y="892" width="3" height="7"/><rect x="557" y="894" width="7" height="3"/></g>
<rect x="566" y="896" width="3" height="1" fill="#66cccc" shape-rendering="crispEdges"/><rect x="574" y="896" width="3" height="1" fill="#66cccc" shape-rendering="crispEdges"/>
<g fill="#66cccc" shape-rendering="crispEdges"><rect x="569" y="892" width="3" height="7"/><rect x="567" y="894" width="7" height="3"/></g>
<rect x="576" y="895" width="3" height="1" fill="#66cccc" shape-rendering="crispEdges"/><rect x="584" y="895" width="3" height="1" fill="#66cccc" shape-rendering="crispEdges"/>
<g fill="#66cccc" shape-rendering="crispEdges"><rect x="579" y="891" width="3" height="7"/><rect x="577" y="893" width="7" height="3"/></g>
<rect x="586" y="896" width="4" height="1" fill="#66cccc" shape-rendering="crispEdges"/><rect x="595" y="896" width="3" height="1" fill="#66cccc" shape-rendering="crispEdges"/>
<g fill="#66cccc" shape-rendering="crispEdges"><rect x="590" y="892" width="3" height="7"/><rect x="588" y="894" width="7" height="3"/></g>
<rect x="597" y="895" width="3" height="1" fill="#66cccc" shape-rendering="crispEdges"/><rect x="605" y="895" width="3" height="1" fill="#66cccc" shape-rendering="crispEdges"/>
<g fill="#66cccc" shape-rendering="crispEdges"><rect x="600" y="891" width="3" height="7"/><rect x="598" y="893" width="7" height="3"/></g>
<rect x="607" y="896" width="3" height="1" fill="#66cccc" shape-rendering="crispEdges"/><rect x="615" y="896" width="3" height="1" fill="#66cccc" shape-rendering="crispEdges"/>
<g fill="#66cccc" shape-rendering="crispEdges"><rect x="610" y="892" width="3" height="7"/><rect x="608" y="894" width="7" height="3"/></g>
<rect x="617" y="896" width="3" height="1" fill="#66cccc" shape-rendering="crispEdges"/><rect x="625" y="896" width="3" height="1" fill="#66cccc" shape-rendering="crispEdges"/>
<g fill="#66cccc" shape-rendering="crispEdges"><rect x="620" y="892" width="3" height="7"/><rect x="618" y="894" width="7" height="3"/></g>
<rect x="627" y="896" width="3" height="1" fill="#66cccc" shape-rendering="crispEdges"/><rect x="635" y="896" width="4" height="1" fill="#66cccc" shape-rendering="crispEdges"/>
<g fill="#66cccc" shape-rendering="crispEdges"><rect x="630" y="892" width="3" height="7"/><rect x="628" y="894" width="7" height="3"/></g>
<rect x="638" y="896" width="3" height="1" fill="#66cccc" shape-rendering="crispEdges"/><rect x="646" y="896" width="3" height="1" fill="#66cccc" shape-rendering="crispEdges"/>
<g fill="#66cccc" shape-rendering="crispEdges"><rect x="641" y="892" width="3" height="7"/><rect x="639" y="894" width="7" height="3"/></g>
<rect x="648" y="895" width="3" height="1" fill="#66cccc" shape-rendering="crispEdges"/><rect x="656" y="895" width="3" height="1" fill="#66cccc" shape-rendering="crispEdges"/>
<g fill="#66cccc" shape-rendering="crispEdges"><rect x="651" y="891" width="3" height="7"/><rect x="649" y="893" width="7" height="3"/></g>
<rect x="658" y="895" width="3" height="1" fill="#66cccc" shape-rendering="crispEdges"/><rect x="666" y="895" width="3" height="1" fill="#66cccc" shape-rendering="crispEdges"/>
<g fill="#66cccc" shape-rendering="crispEdges"><rect x="661" y="891" width="3" height="7"/><rect x="659" y="893" width="7" height="3"/></g>
<rect x="668" y="896" width="3" height="1" fill="#66cccc" shape-rendering="crispEdges"/><rect x="676" y="896" width="3" height="1" fill="#66cccc" shape-rendering="crispEdges"/>
<g fill="#66cccc" shape-rendering="crispEdges"><rect x="671" y="892" width="3" height="7"/><rect x="669" y="894" width="7" height="3"/></g>
<rect x="678" y="896" width="3" height="1" fill="#66cccc" shape-rendering="crispEdges"/><rect x="686" y="896" width="4" height="1" fill="#66cccc" shape-rendering="crispEdges"/>
<g fill="#66cccc" shape-rendering="crispEdges"><rect x="681" y="892" width="3" height="7"/><rect x="679" y="894" width="7" height="3"/></g>
<rect x="689" y="896" width="3" height="1" fill="#66cccc" shape-rendering="crispEdges"/><rect x="697" y="896" width="3" height="1" fill="#66cccc" shape-rendering="crispEdges"/>
<g fill="#66cccc" shape-rendering="crispEdges"><rect x="692" y="892" width="3" height="7"/><rect x="690" y="894" width="7" height="3"/></g>
<rect x="699" y="896" width="3" height="1" fill="#66cccc" shape-rendering="crispEdges"/><rect x="707" y="896" width="3" height="1" fill="#66cccc" shape-rendering="crispEdges"/>
<g fill="#66cccc" shape-rendering="crispEdges"><rect x="702" y="892" width="3" height="7"/><rect x="700" y="894" width="7" height="3"/></g>
<rect x="709" y="896" width="3" height="1" fill="#66cccc" shape-rendering="crispEdges"/><rect x="717" y="896" width="3" height="1" fill="#66cccc" shape-rendering="crispEdges"/>
<g fill="#66cccc" shape-rendering="crispEdges"><rect x="712" y="892" width="3" height="7"/><rect x="710" y="894" width="7" height="3"/></g>
<rect x="719" y="896" width="3" height="1" fill="#66cccc" shape-rendering="crispEdges"/><rect x="727" y="896" width="3" height="1" fill="#66cccc" shape-rendering="crispEdges"/>
<g fill="#66cccc" shape-rendering="crispEdges"><rect x="722" y="892" width="3" height="7"/><rect x="720" y="894" width="7" height="3"/></g>
<rect x="729" y="895" width="3" height="1" fill="#66cccc" shape-rendering="crispEdges"/><rect x="737" y="895" width="4" height="1" fill="#66cccc" shape-rendering="crispEdges"/>
<g fill="#66cccc" shape-rendering="crispEdges"><rect x="732" y="891" width="3" height="7"/><rect x="730" y="893" width="7" height="3"/></g>
<rect x="740" y="896" width="3" height="1" fill="#66cccc" shape-rendering="crispEdges"/><rect x="748" y="896" width="3" height="1" fill="#66cccc" shape-rendering="crispEdges"/>
<g fill="#66cccc" shape-rendering="crispEdges"><rect x="743" y="892" width="3" height="7"/><rect x="741" y="894" width="7" height="3"/></g>
<rect x="750" y="896" width="3" height="1" fill="#66cccc" shape-rendering="crispEdges"/><rect x="758" y="896" width="3" height="1" fill="#66cccc" shape-rendering="crispEdges"/>
<g fill="#66cccc" shape-rendering="crispEdges"><rect x="753" y="892" width="3" height="7"/><rect x="751" y="894" width="7" height="3"/></g>
<rect x="760" y="896" width="3" height="1" fill="#66cccc" shape-rendering="crispEdges"/><rect x="768" y="896" width="3" height="1" fill="#66cccc" shape-rendering="crispEdges"/>
<g fill="#66cccc" shape-rendering="crispEdges"><rect x="763" y="892" width="3" height="7"/><rect x="761" y="894" width="7" height="3"/></g>
<rect x="770" y="896" width="3" height="1" fill="#66cccc" shape-rendering="crispEdges"/><rect x="778" y="896" width="3" height="1" fill="#66cccc" shape-rendering="crispEdges"/>
<g fill="#66cccc" shape-rendering="crispEdges"><rect x="773" y="892" width="3" height="7"/><rect x="771" y="894" width="7" height="3"/></g>
<rect x="780" y="896" width="4" height="1" fill="#66cccc" shape-rendering="crispEdges"/><rect x="789" y="896" width="3" height="1" fill="#66cccc" shape-rendering="crispEdges"/>
<g fill="#66cccc" shape-rendering="crispEdges"><rect x="784" y="892" width="3" height="7"/><rect x="782" y="894" width="7" height="3"/></g>
<rect x="791" y="896" width="3" height="1" fill="#66cccc" shape-rendering="crispEdges"/><rect x="799" y="896" width="3" height="1" fill="#66cccc" shape-rendering="crispEdges"/>
<g fill="#66cccc" shape-rendering="crispEdges"><rect x="794" y="892" width="3" height="7"/><rect x="792" y="894" width="7" height="3"/></g>
<rect x="801" y="896" width="3" height="1" fill="#66cccc" shape-rendering="crispEdges"/><rect x="809" y="896" width="3" height="1" fill="#66cccc" shape-rendering="crispEdges"/>
<g fill="#66cccc" shape-rendering="crispEdges"><rect x="804" y="892" width="3" height="7"/><rect x="802" y="894" width="7" height="3"/></g>
<rect x="811" y="896" width="3" height="1" fill="#66cccc" shape-rendering="crispEdges"/><rect x="819" y="896" width="3" height="1" fill="#66cccc" shape-rendering="crispEdges"/>
<g fill="#66cccc" shape-rendering="crispEdges"><rect x="814" y="892" width="3" height="7"/><rect x="812" y="894" width="7" height="3"/></g>
<rect x="821" y="896" width="3" height="1" fill="#66cccc" shape-rendering="crispEdges"/><rect x="829" y="896" width="3" height="1" fill="#66cccc" shape-rendering="crispEdges"/>
<g fill="#66cccc" shape-rendering="crispEdges"><rect x="824" y="892" width="3" height="7"/><rect x="822" y="894" width="7" height="3"/></g>
<rect x="831" y="896" width="4" height="1" fill="#66cccc" shape-rendering="crispEdges"/><rect x="840" y="896" width="3" height="1" fill="#66cccc" shape-rendering="crispEdges"/>
<g fill="#66cccc" shape-rendering="crispEdges"><rect x="835" y="892" width="3" height="7"/><rect x="833" y="894" width="7" height="3"/></g>
<rect x="842" y="896" width="3" height="1" fill="#66cccc" shape-rendering="crispEdges"/><rect x="850" y="896" width="3" height="1" fill="#66cccc" shape-rendering="crispEdges"/>
<g fill="#66cccc" shape-rendering="crispEdges"><rect x="845" y="892" width="3" height="7"/><rect x="843" y="894" width="7" height="3"/></g>
<rect x="852" y="896" width="3" height="1" fill="#66cccc" shape-rendering="crispEdges"/><rect x="860" y="896" width="3" height="1" fill="#66cccc" shape-rendering="crispEdges"/>
<g fill="#66cccc" shape-rendering="crispEdges"><rect x="855" y="892" width="3" height="7"/><rect x="853" y="894" width="7" height="3"/></g>
<rect x="862" y="896" width="3" height="1" fill="#66cccc" shape-rendering="crispEdges"/><rect x="870" y="896" width="3" height="1" fill="#66cccc" shape-rendering="crispEdges"/>
<g fill="#66cccc" shape-rendering="crispEdges"><rect x="865" y="892" width="3" height="7"/><rect x="863" y="894" width="7" height="3"/></g>
<rect x="872" y="896" width="3" height="1" fill="#66cccc" shape-rendering="crispEdges"/><rect x="880" y="896" width="3" height="1" fill="#66cccc" shape-rendering="crispEdges"/>
<g fill="#66cccc" shape-rendering="crispEdges"><rect x="875" y="892" width="3" height="7"/><rect x="873" y="894" width="7" height="3"/></g>
<rect x="882" y="896" width="4" height="1" fill="#66cccc" shape-rendering="crispEdges"/><rect x="891" y="896" width="3" height="1" fill="#66cccc" shape-rendering="crispEdges"/>
<g fill="#66cccc" shape-rendering="crispEdges"><rect x="886" y="892" width="3" height="7"/><rect x="884" y="894" width="7" height="3"/></g>
<rect x="893" y="896" width="3" height="1" fill="#66cccc" shape-rendering="crispEdges"/><rect x="901" y="896" width="3" height="1" fill="#66cccc" shape-rendering="crispEdges"/>
<g fill="#66cccc" shape-rendering="crispEdges"><rect x="896" y="892" width="3" height="7"/><rect x="894" y="894" width="7" height="3"/></g>
<rect x="903" y="896" width="3" height="1" fill="#66cccc" shape-rendering="crispEdges"/><rect x="911" y="896" width="3" height="1" fill="#66cccc" shape-rendering="crispEdges"/>
<g fill="#66cccc" shape-rendering="crispEdges"><rect x="906" y="892" width="3" height="7"/><rect x="904" y="894" width="7" height="3"/></g>
<rect x="913" y="896" width="3" height="1" fill="#66cccc" shape-rendering="crispEdges"/><rect x="921" y="896" width="3" height="1" fill="#66cccc" shape-rendering="crispEdges"/>
<g fill="#66cccc" shape-rendering="crispEdges"><rect x="916" y="892" width="3" height="7"/><rect x="914" y="894" width="7" height="3"/></g>
<rect x="923" y="896" width="3" height="1" fill="#66cccc" shape-rendering="crispEdges"/><rect x="931" y="896" width="4" height="1" fill="#66cccc" shape-rendering="crispEdges"/>
<g fill="#66cccc" shape-rendering="crispEdges"><rect x="926" y="892" width="3" height="7"/><rect x="924" y="894" width="7" height="3"/></g>
<rect x="934" y="896" width="3" height="1" fill="#66cccc" shape-rendering="crispEdges"/><rect x="942" y="896" width="3" height="1" fill="#66cccc" shape-rendering="crispEdges"/>
<g fill="#66cccc" shape-rendering="crispEdges"><rect x="937" y="892" width="3" height="7"/><rect x="935" y="894" width="7" height="3"/></g>
<rect x="954" y="896" width="3" height="1" fill="#66cccc" shape-rendering="crispEdges"/><rect x="962" y="896" width="3" height="1" fill="#66cccc" shape-rendering="crispEdges"/>
<g fill="#66cccc" shape-rendering="crispEdges"><rect x="957" y="892" width="3" height="7"/><rect x="955" y="894" width="7" height="3"/></g>
<rect x="964" y="896" width="3" height="1" fill="#66cccc" shape-rendering="crispEdges"/><rect x="972" y="896" width="3" height="1" fill="#66cccc" shape-rendering="crispEdges"/>
<g fill="#66cccc" shape-rendering="crispEdges"><rect x="967" y="892" width="3" height="7"/><rect x="965" y="894" width="7" height="3"/></g>
<rect x="974" y="896" width="3" height="1" fill="#66cccc" shape-rendering="crispEdges"/><rect x="982" y="896" width="4" height="1" fill="#66cccc" shape-rendering="crispEdges"/>
<g fill="#66cccc" shape-rendering="crispEdges"><rect x="977" y="892" width="3" height="7"/><rect x="975" y="894" width="7" height="3"/></g>
<rect x="985" y="896" width="3" height="1" fill="#66cccc" shape-rendering="crispEdges"/><rect x="993" y="896" width="3" height="1" fill="#66cccc" shape-rendering="crispEdges"/>
<g fill="#66cccc" shape-rendering="crispEdges"><rect x="988" y="892" width="3" height="7"/><rect x="986" y="894" width="7" height="3"/></g>
<rect x="995" y="896" width="3" height="1" fill="#66cccc" shape-rendering="crispEdges"/><rect x="1003" y="896" width="3" height="1" fill="#66cccc" shape-rendering="crispEdges"/>
<g fill="#66cccc" shape-rendering="crispEdges"><rect x="998" y="892" width="3" height="7"/><rect x="996" y="894" width="7" height="3"/></g>
<rect x="1005" y="896" width="3" height="1" fill="#66cccc" shape-rendering="crispEdges"/><rect x="1013" y="896" width="3" height="1" fill="#66cccc" shape-rendering="crispEdges"/>
<g fill="#66cccc" shape-rendering="crispEdges"><rect x="1008" y="892" width="3" height="7"/><rect x="1006" y="894" width="7" height="3"/></g>
<rect x="1036" y="896" width="3" height="1" fill="#66cccc" shape-rendering="crispEdges"/><rect x="1044" y="896" width="3" height="1" fill="#66cccc" shape-rendering="crispEdges"/>
<g fill="#66cccc" shape-rendering="crispEdges"><rect x="1039" y="892" width="3" height="7"/><rect x="1037" y="894" width="7" height="3"/></g>
<rect x="1046" y="896" width="3" height="1" fill="#66cccc" shape-rendering="crispEdges"/><rect x="1054" y="896" width="3" height="1" fill="#66cccc" shape-rendering="crispEdges"/>
<g fill="#66cccc" shape-rendering="crispEdges"><rect x="1049" y="892" width="3" height="7"/><rect x="1047" y="894" width="7" height="3"/></g>
<rect x="1056" y="896" width="3" height="1" fill="#66cccc" shape-rendering="crispEdges"/><rect x="1064" y="896" width="3" height="1" fill="#66cccc" shape-rendering="crispEdges"/>
<g fill="#66cccc" shape-rendering="crispEdges"><rect x="1059" y="892" width="3" height="7"/><rect x="1057" y="894" width="7" height="3"/></g>
<rect x="1066" y="896" width="3" height="1" fill="#66cccc" shape-rendering="crispEdges"/><rect x="1074" y="896" width="3" height="1" fill="#66cccc" shape-rendering="crispEdges"/>
<g fill="#66cccc" shape-rendering="crispEdges"><rect x="1069" y="892" width="3" height="7"/><rect x="1067" y="894" width="7" height="3"/></g>
<rect x="1076" y="896" width="4" height="1" fill="#66cccc" shape-rendering="crispEdges"/><rect x="1085" y="896" width="3" height="1" fill="#66cccc" shape-rendering="crispEdges"/>
<g fill="#66cccc" shape-rendering="crispEdges"><rect x="1080" y="892" width="3" height="7"/><rect x="1078" y="894" width="7" height="3"/></g>
<rect x="1087" y="896" width="3" height="1" fill="#66cccc" shape-rendering="crispEdges"/><rect x="1095" y="896" width="3" height="1" fill="#66cccc" shape-rendering="crispEdges"/>
<g fill="#66cccc" shape-rendering="crispEdges"><rect x="1090" y="892" width="3" height="7"/><rect x="1088" y="894" width="7" height="3"/></g>
<rect x="1138" y="896" width="3" height="1" fill="#66cccc" shape-rendering="crispEdges"/><rect x="1146" y="896" width="3" height="1" fill="#66cccc" shape-rendering="crispEdges"/>
<g fill="#66cccc" shape-rendering="crispEdges"><rect x="1141" y="892" width="3" height="7"/><rect x="1139" y="894" width="7" height="3"/></g>
</g>
<g id="sP">
<rect x="137" y="896" width="3" height="1" fill="#009900" shape-rendering="crispEdges"/><rect x="145" y="896" width="4" height="1" fill="#009900" shape-rendering="crispEdges"/>
<polygon points="138,892 145,892 142.5,899" fill="#009900"/>
<rect x="168" y="896" width="3" height="1" fill="#009900" shape-rendering="crispEdges"/><rect x="176" y="896" width="3" height="1" fill="#009900" shape-rendering="crispEdges"/>
<polygon points="169,892 176,892 173.5,899" fill="#009900"/>
<rect x="209" y="896" width="3" height="1" fill="#009900" shape-rendering="crispEdges"/><rect x="217" y="896" width="3" height="1" fill="#009900" shape-rendering="crispEdges"/>
<polygon points="210,892 217,892 214.5,899" fill="#009900"/>
<rect x="250" y="895" width="3" height="1" fill="#009900" shape-rendering="crispEdges"/><rect x="258" y="895" width="3" height="1" fill="#009900" shape-rendering="crispEdges"/>
<polygon points="251,891 258,891 255.5,898" fill="#009900"/>
<rect x="260" y="896" width="3" height="1" fill="#009900" shape-rendering="crispEdges"/><rect x="268" y="896" width="3" height="1" fill="#009900" shape-rendering="crispEdges"/>
<polygon points="261,892 268,892 265.5,899" fill="#009900"/>
<rect x="270" y="222" width="3" height="1" fill="#009900" shape-rendering="crispEdges"/><rect x="278" y="222" width="3" height="1" fill="#009900" shape-rendering="crispEdges"/>
<polygon points="271,218 278,218 275.5,225" fill="#009900"/>
<rect x="280" y="294" width="3" height="1" fill="#009900" shape-rendering="crispEdges"/><rect x="288" y="294" width="3" height="1" fill="#009900" shape-rendering="crispEdges"/>
<polygon points="281,290 288,290 285.5,297" fill="#009900"/>
<rect x="290" y="847" width="4" height="1" fill="#009900" shape-rendering="crispEdges"/><rect x="299" y="847" width="3" height="1" fill="#009900" shape-rendering="crispEdges"/>
<polygon points="292,843 299,843 296.5,850" fill="#009900"/>
<rect x="301" y="855" width="3" height="1" fill="#009900" shape-rendering="crispEdges"/><rect x="309" y="855" width="3" height="1" fill="#009900" shape-rendering="crispEdges"/>
<polygon points="302,851 309,851 306.5,858" fill="#009900"/>
<rect x="311" y="865" width="3" height="1" fill="#009900" shape-rendering="crispEdges"/><rect x="319" y="865" width="3" height="1" fill="#009900" shape-rendering="crispEdges"/>
<polygon points="312,861 319,861 316.5,868" fill="#009900"/>
<rect x="321" y="871" width="3" height="1" fill="#009900" shape-rendering="crispEdges"/><rect x="329" y="871" width="3" height="1" fill="#009900" shape-rendering="crispEdges"/>
<polygon points="322,867 329,867 326.5,874" fill="#009900"/>
<rect x="331" y="884" width="3" height="1" fill="#009900" shape-rendering="crispEdges"/><rect x="339" y="884" width="3" height="1" fill="#009900" shape-rendering="crispEdges"/>
<polygon points="332,880 339,880 336.5,887" fill="#009900"/>
<rect x="341" y="872" width="4" height="1" fill="#009900" shape-rendering="crispEdges"/><rect x="350" y="872" width="3" height="1" fill="#009900" shape-rendering="crispEdges"/>
<polygon points="343,868 350,868 347.5,875" fill="#009900"/>
<rect x="352" y="883" width="3" height="1" fill="#009900" shape-rendering="crispEdges"/><rect x="360" y="883" width="3" height="1" fill="#009900" shape-rendering="crispEdges"/>
<polygon points="353,879 360,879 357.5,886" fill="#009900"/>
<rect x="362" y="882" width="3" height="1" fill="#009900" shape-rendering="crispEdges"/><rect x="370" y="882" width="3" height="1" fill="#009900" shape-rendering="crispEdges"/>
<polygon points="363,878 370,878 367.5,885" fill="#009900"/>
<rect x="372" y="876" width="3" height="1" fill="#009900" shape-rendering="crispEdges"/><rect x="380" y="876" width="3" height="1" fill="#009900" shape-rendering="crispEdges"/>
<polygon points="373,872 380,872 377.5,879" fill="#009900"/>
<rect x="382" y="893" width="3" height="1" fill="#009900" shape-rendering="crispEdges"/><rect x="390" y="893" width="4" height="1" fill="#009900" shape-rendering="crispEdges"/>
<polygon points="383,889 390,889 387.5,896" fill="#009900"/>
<rect x="393" y="885" width="3" height="1" fill="#009900" shape-rendering="crispEdges"/><rect x="401" y="885" width="3" height="1" fill="#009900" shape-rendering="crispEdges"/>
<polygon points="394,881 401,881 398.5,888" fill="#009900"/>
<rect x="403" y="887" width="3" height="1" fill="#009900" shape-rendering="crispEdges"/><rect x="411" y="887" width="3" height="1" fill="#009900" shape-rendering="crispEdges"/>
<polygon points="404,883 411,883 408.5,890" fill="#009900"/>
<rect x="413" y="894" width="3" height="1" fill="#009900" shape-rendering="crispEdges"/><rect x="421" y="894" width="3" height="1" fill="#009900" shape-rendering="crispEdges"/>
<polygon points="414,890 421,890 418.5,897" fill="#009900"/>
<rect x="423" y="894" width="3" height="1" fill="#009900" shape-rendering="crispEdges"/><rect x="431" y="894" width="3" height="1" fill="#009900" shape-rendering="crispEdges"/>
<polygon points="424,890 431,890 428.5,897" fill="#009900"/>
<rect x="433" y="889" width="3" height="1" fill="#009900" shape-rendering="crispEdges"/><rect x="441" y="889" width="4" height="1" fill="#009900" shape-rendering="crispEdges"/>
<polygon points="434,885 441,885 438.5,892" fill="#009900"/>
<rect x="444" y="891" width="3" height="1" fill="#009900" shape-rendering="crispEdges"/><rect x="452" y="891" width="3" height="1" fill="#009900" shape-rendering="crispEdges"/>
<polygon points="445,887 452,887 449.5,894" fill="#009900"/>
<rect x="454" y="889" width="3" height="1" fill="#009900" shape-rendering="crispEdges"/><rect x="462" y="889" width="3" height="1" fill="#009900" shape-rendering="crispEdges"/>
<polygon points="455,885 462,885 459.5,892" fill="#009900"/>
<rect x="464" y="888" width="3" height="1" fill="#009900" shape-rendering="crispEdges"/><rect x="472" y="888" width="3" height="1" fill="#009900" shape-rendering="crispEdges"/>
<polygon points="465,884 472,884 469.5,891" fill="#009900"/>
<rect x="474" y="895" width="3" height="1" fill="#009900" shape-rendering="crispEdges"/><rect x="482" y="895" width="3" height="1" fill="#009900" shape-rendering="crispEdges"/>
<polygon points="475,891 482,891 479.5,898" fill="#009900"/>
<rect x="484" y="895" width="3" height="1" fill="#009900" shape-rendering="crispEdges"/><rect x="492" y="895" width="4" height="1" fill="#009900" shape-rendering="crispEdges"/>
<polygon points="485,891 492,891 489.5,898" fill="#009900"/>
<rect x="495" y="893" width="3" height="1" fill="#009900" shape-rendering="crispEdges"/><rect x="503" y="893" width="3" height="1" fill="#009900" shape-rendering="crispEdges"/>
<polygon points="496,889 503,889 500.5,896" fill="#009900"/>
<rect x="505" y="894" width="3" height="1" fill="#009900" shape-rendering="crispEdges"/><rect x="513" y="894" width="3" height="1" fill="#009900" shape-rendering="crispEdges"/>
<polygon points="506,890 513,890 510.5,897" fill="#009900"/>
<rect x="515" y="896" width="3" height="1" fill="#009900" shape-rendering="crispEdges"/><rect x="523" y="896" width="3" height="1" fill="#009900" shape-rendering="crispEdges"/>
<polygon points="516,892 523,892 520.5,899" fill="#009900"/>
<rect x="525" y="895" width="3" height="1" fill="#009900" shape-rendering="crispEdges"/><rect x="533" y="895" width="3" height="1" fill="#009900" shape-rendering="crispEdges"/>
<polygon points="526,891 533,891 530.5,898" fill="#009900"/>
<rect x="535" y="895" width="4" height="1" fill="#009900" shape-rendering="crispEdges"/><rect x="544" y="895" width="3" height="1" fill="#009900" shape-rendering="crispEdges"/>
<polygon points="537,891 544,891 541.5,898" fill="#009900"/>
<rect x="546" y="896" width="3" height="1" fill="#009900" shape-rendering="crispEdges"/><rect x="554" y="896" width="3" height="1" fill="#009900" shape-rendering="crispEdges"/>
<polygon points="547,892 554,892 551.5,899" fill="#009900"/>
<rect x="556" y="896" width="3" height="1" fill="#009900" shape-rendering="crispEdges"/><rect x="564" y="896" width="3" height="1" fill="#009900" shape-rendering="crispEdges"/>
<polygon points="557,892 564,892 561.5,899" fill="#009900"/>
<rect x="566" y="896" width="3" height="1" fill="#009900" shape-rendering="crispEdges"/><rect x="574" y="896" width="3" height="1" fill="#009900" shape-rendering="crispEdges"/>
<polygon points="567,892 574,892 571.5,899" fill="#009900"/>
<rect x="576" y="895" width="3" height="1" fill="#009900" shape-rendering="crispEdges"/><rect x="584" y="895" width="3" height="1" fill="#009900" shape-rendering="crispEdges"/>
<polygon points="577,891 584,891 581.5,898" fill="#009900"/>
<rect x="586" y="896" width="4" height="1" fill="#009900" shape-rendering="crispEdges"/><rect x="595" y="896" width="3" height="1" fill="#009900" shape-rendering="crispEdges"/>
<polygon points="588,892 595,892 592.5,899" fill="#009900"/>
<rect x="597" y="895" width="3" height="1" fill="#009900" shape-rendering="crispEdges"/><rect x="605" y="895" width="3" height="1" fill="#009900" shape-rendering="crispEdges"/>
<polygon points="598,891 605,891 602.5,898" fill="#009900"/>
<rect x="607" y="896" width="3" height="1" fill="#009900" shape-rendering="crispEdges"/><rect x="615" y="896" width="3" height="1" fill="#009900" shape-rendering="crispEdges"/>
<polygon points="608,892 615,892 612.5,899" fill="#009900"/>
<rect x="617" y="896" width="3" height="1" fill="#009900" shape-rendering="crispEdges"/><rect x="625" y="896" width="3" height="1" fill="#009900" shape-rendering="crispEdges"/>
<polygon points="618,892 625,892 622.5,899" fill="#009900"/>
<rect x="627" y="896" width="3" height="1" fill="#009900" shape-rendering="crispEdges"/><rect x="635" y="896" width="4" height="1" fill="#009900" shape-rendering="crispEdges"/>
<polygon points="628,892 635,892 632.5,899" fill="#009900"/>
<rect x="638" y="896" width="3" height="1" fill="#009900" shape-rendering="crispEdges"/><rect x="646" y="896" width="3" height="1" fill="#009900" shape-rendering="crispEdges"/>
<polygon points="639,892 646,892 643.5,899" fill="#009900"/>
<rect x="648" y="895" width="3" height="1" fill="#009900" shape-rendering="crispEdges"/><rect x="656" y="895" width="3" height="1" fill="#009900" shape-rendering="crispEdges"/>
<polygon points="649,891 656,891 653.5,898" fill="#009900"/>
<rect x="658" y="895" width="3" height="1" fill="#009900" shape-rendering="crispEdges"/><rect x="666" y="895" width="3" height="1" fill="#009900" shape-rendering="crispEdges"/>
<polygon points="659,891 666,891 663.5,898" fill="#009900"/>
<rect x="668" y="896" width="3" height="1" fill="#009900" shape-rendering="crispEdges"/><rect x="676" y="896" width="3" height="1" fill="#009900" shape-rendering="crispEdges"/>
<polygon points="669,892 676,892 673.5,899" fill="#009900"/>
<rect x="678" y="896" width="3" height="1" fill="#009900" shape-rendering="crispEdges"/><rect x="686" y="896" width="4" height="1" fill="#009900" shape-rendering="crispEdges"/>
<polygon points="679,892 686,892 683.5,899" fill="#009900"/>
<rect x="689" y="896" width="3" height="1" fill="#009900" shape-rendering="crispEdges"/><rect x="697" y="896" width="3" height="1" fill="#009900" shape-rendering="crispEdges"/>
<polygon points="690,892 697,892 694.5,899" fill="#009900"/>
<rect x="699" y="896" width="3" height="1" fill="#009900" shape-rendering="crispEdges"/><rect x="707" y="896" width="3" height="1" fill="#009900" shape-rendering="crispEdges"/>
<polygon points="700,892 707,892 704.5,899" fill="#009900"/>
<rect x="709" y="896" width="3" height="1" fill="#009900" shape-rendering="crispEdges"/><rect x="717" y="896" width="3" height="1" fill="#009900" shape-rendering="crispEdges"/>
<polygon points="710,892 717,892 714.5,899" fill="#009900"/>
<rect x="719" y="896" width="3" height="1" fill="#009900" shape-rendering="crispEdges"/><rect x="727" y="896" width="3" height="1" fill="#009900" shape-rendering="crispEdges"/>
<polygon points="720,892 727,892 724.5,899" fill="#009900"/>
<rect x="729" y="895" width="3" height="1" fill="#009900" shape-rendering="crispEdges"/><rect x="737" y="895" width="4" height="1" fill="#009900" shape-rendering="crispEdges"/>
<polygon points="730,891 737,891 734.5,898" fill="#009900"/>
<rect x="740" y="896" width="3" height="1" fill="#009900" shape-rendering="crispEdges"/><rect x="748" y="896" width="3" height="1" fill="#009900" shape-rendering="crispEdges"/>
<polygon points="741,892 748,892 745.5,899" fill="#009900"/>
<rect x="750" y="896" width="3" height="1" fill="#009900" shape-rendering="crispEdges"/><rect x="758" y="896" width="3" height="1" fill="#009900" shape-rendering="crispEdges"/>
<polygon points="751,892 758,892 755.5,899" fill="#009900"/>
<rect x="760" y="896" width="3" height="1" fill="#009900" shape-rendering="crispEdges"/><rect x="768" y="896" width="3" height="1" fill="#009900" shape-rendering="crispEdges"/>
<polygon points="761,892 768,892 765.5,899" fill="#009900"/>
<rect x="770" y="896" width="3" height="1" fill="#009900" shape-rendering="crispEdges"/><rect x="778" y="896" width="3" height="1" fill="#009900" shape-rendering="crispEdges"/>
<polygon points="771,892 778,892 775.5,899" fill="#009900"/>
<rect x="780" y="896" width="4" height="1" fill="#009900" shape-rendering="crispEdges"/><rect x="789" y="896" width="3" height="1" fill="#009900" shape-rendering="crispEdges"/>
<polygon points="782,892 789,892 786.5,899" fill="#009900"/>
<rect x="791" y="896" width="3" height="1" fill="#009900" shape-rendering="crispEdges"/><rect x="799" y="896" width="3" height="1" fill="#009900" shape-rendering="crispEdges"/>
<polygon points="792,892 799,892 796.5,899" fill="#009900"/>
<rect x="801" y="896" width="3" height="1" fill="#009900" shape-rendering="crispEdges"/><rect x="809" y="896" width="3" height="1" fill="#009900" shape-rendering="crispEdges"/>
<polygon points="802,892 809,892 806.5,899" fill="#009900"/>
<rect x="811" y="896" width="3" height="1" fill="#009900" shape-rendering="crispEdges"/><rect x="819" y="896" width="3" height="1" fill="#009900" shape-rendering="crispEdges"/>
<polygon points="812,892 819,892 816.5,899" fill="#009900"/>
<rect x="821" y="896" width="3" height="1" fill="#009900" shape-rendering="crispEdges"/><rect x="829" y="896" width="3" height="1" fill="#009900" shape-rendering="crispEdges"/>
<polygon points="822,892 829,892 826.5,899" fill="#009900"/>
<rect x="831" y="896" width="4" height="1" fill="#009900" shape-rendering="crispEdges"/><rect x="840" y="896" width="3" height="1" fill="#009900" shape-rendering="crispEdges"/>
<polygon points="833,892 840,892 837.5,899" fill="#009900"/>
<rect x="842" y="896" width="3" height="1" fill="#009900" shape-rendering="crispEdges"/><rect x="850" y="896" width="3" height="1" fill="#009900" shape-rendering="crispEdges"/>
<polygon points="843,892 850,892 847.5,899" fill="#009900"/>
<rect x="852" y="896" width="3" height="1" fill="#009900" shape-rendering="crispEdges"/><rect x="860" y="896" width="3" height="1" fill="#009900" shape-rendering="crispEdges"/>
<polygon points="853,892 860,892 857.5,899" fill="#009900"/>
<rect x="862" y="896" width="3" height="1" fill="#009900" shape-rendering="crispEdges"/><rect x="870" y="896" width="3" height="1" fill="#009900" shape-rendering="crispEdges"/>
<polygon points="863,892 870,892 867.5,899" fill="#009900"/>
<rect x="872" y="896" width="3" height="1" fill="#009900" shape-rendering="crispEdges"/><rect x="880" y="896" width="3" height="1" fill="#009900" shape-rendering="crispEdges"/>
<polygon points="873,892 880,892 877.5,899" fill="#009900"/>
<rect x="882" y="896" width="4" height="1" fill="#009900" shape-rendering="crispEdges"/><rect x="891" y="896" width="3" height="1" fill="#009900" shape-rendering="crispEdges"/>
<polygon points="884,892 891,892 888.5,899" fill="#009900"/>
<rect x="893" y="896" width="3" height="1" fill="#009900" shape-rendering="crispEdges"/><rect x="901" y="896" width="3" height="1" fill="#009900" shape-rendering="crispEdges"/>
<polygon points="894,892 901,892 898.5,899" fill="#009900"/>
<rect x="903" y="896" width="3" height="1" fill="#009900" shape-rendering="crispEdges"/><rect x="911" y="896" width="3" height="1" fill="#009900" shape-rendering="crispEdges"/>
<polygon points="904,892 911,892 908.5,899" fill="#009900"/>
<rect x="913" y="896" width="3" height="1" fill="#009900" shape-rendering="crispEdges"/><rect x="921" y="896" width="3" height="1" fill="#009900" shape-rendering="crispEdges"/>
<polygon points="914,892 921,892 918.5,899" fill="#009900"/>
<rect x="923" y="896" width="3" height="1" fill="#009900" shape-rendering="crispEdges"/><rect x="931" y="896" width="4" height="1" fill="#009900" shape-rendering="crispEdges"/>
<polygon points="924,892 931,892 928.5,899" fill="#009900"/>
<rect x="934" y="896" width="3" height="1" fill="#009900" shape-rendering="crispEdges"/><rect x="942" y="896" width="3" height="1" fill="#009900" shape-rendering="crispEdges"/>
<polygon points="935,892 942,892 939.5,899" fill="#009900"/>
<rect x="954" y="896" width="3" height="1" fill="#009900" shape-rendering="crispEdges"/><rect x="962" y="896" width="3" height="1" fill="#009900" shape-rendering="crispEdges"/>
<polygon points="955,892 962,892 959.5,899" fill="#009900"/>
<rect x="964" y="896" width="3" height="1" fill="#009900" shape-rendering="crispEdges"/><rect x="972" y="896" width="3" height="1" fill="#009900" shape-rendering="crispEdges"/>
<polygon points="965,892 972,892 969.5,899" fill="#009900"/>
<rect x="974" y="896" width="3" height="1" fill="#009900" shape-rendering="crispEdges"/><rect x="982" y="896" width="4" height="1" fill="#009900" shape-rendering="crispEdges"/>
<polygon points="975,892 982,892 979.5,899" fill="#009900"/>
<rect x="985" y="896" width="3" height="1" fill="#009900" shape-rendering="crispEdges"/><rect x="993" y="896" width="3" height="1" fill="#009900" shape-rendering="crispEdges"/>
<polygon points="986,892 993,892 990.5,899" fill="#009900"/>
<rect x="995" y="896" width="3" height="1" fill="#009900" shape-rendering="crispEdges"/><rect x="1003" y="896" width="3" height="1" fill="#009900" shape-rendering="crispEdges"/>
<polygon points="996,892 1003,892 1000.5,899" fill="#009900"/>
<rect x="1005" y="896" width="3" height="1" fill="#009900" shape-rendering="crispEdges"/><rect x="1013" y="896" width="3" height="1" fill="#009900" shape-rendering="crispEdges"/>
<polygon points="1006,892 1013,892 1010.5,899" fill="#009900"/>
<rect x="1036" y="896" width="3" height="1" fill="#009900" shape-rendering="crispEdges"/><rect x="1044" y="896" width="3" height="1" fill="#009900" shape-rendering="crispEdges"/>
<polygon points="1037,892 1044,892 1041.5,899" fill="#009900"/>
<rect x="1046" y="896" width="3" height="1" fill="#009900" shape-rendering="crispEdges"/><rect x="1054" y="896" width="3" height="1" fill="#009900" shape-rendering="crispEdges"/>
<polygon points="1047,892 1054,892 1051.5,899" fill="#009900"/>
<rect x="1056" y="896" width="3" height="1" fill="#009900" shape-rendering="crispEdges"/><rect x="1064" y="896" width="3" height="1" fill="#009900" shape-rendering="crispEdges"/>
<polygon points="1057,892 1064,892 1061.5,899" fill="#009900"/>
<rect x="1066" y="896" width="3" height="1" fill="#009900" shape-rendering="crispEdges"/><rect x="1074" y="896" width="3" height="1" fill="#009900" shape-rendering="crispEdges"/>
<polygon points="1067,892 1074,892 1071.5,899" fill="#009900"/>
<rect x="1076" y="896" width="4" height="1" fill="#009900" shape-rendering="crispEdges"/><rect x="1085" y="896" width="3" height="1" fill="#009900" shape-rendering="crispEdges"/>
<polygon points="1078,892 1085,892 1082.5,899" fill="#009900"/>
<rect x="1087" y="896" width="3" height="1" fill="#009900" shape-rendering="crispEdges"/><rect x="1095" y="896" width="3" height="1" fill="#009900" shape-rendering="crispEdges"/>
<polygon points="1088,892 1095,892 1092.5,899" fill="#009900"/>
<rect x="1138" y="896" width="3" height="1" fill="#009900" shape-rendering="crispEdges"/><rect x="1146" y="896" width="3" height="1" fill="#009900" shape-rendering="crispEdges"/>
<polygon points="1139,892 1146,892 1143.5,899" fill="#009900"/>
</g>
<g id="sG">
<rect x="137" y="896" width="3" height="1" fill="#000000" shape-rendering="crispEdges"/><rect x="145" y="896" width="4" height="1" fill="#000000" shape-rendering="crispEdges"/>
<polygon points="142.5,892.5 144.3,896.3 142.2,899.2 139.8,896.3" fill="#000000"/>
<rect x="168" y="896" width="3" height="1" fill="#000000" shape-rendering="crispEdges"/><rect x="176" y="896" width="3" height="1" fill="#000000" shape-rendering="crispEdges"/>
<polygon points="173.5,892.5 175.3,896.3 173.2,899.2 170.8,896.3" fill="#000000"/>
<rect x="209" y="896" width="3" height="1" fill="#000000" shape-rendering="crispEdges"/><rect x="217" y="896" width="3" height="1" fill="#000000" shape-rendering="crispEdges"/>
<polygon points="214.5,892.5 216.3,896.3 214.2,899.2 211.8,896.3" fill="#000000"/>
<rect x="250" y="894" width="3" height="1" fill="#000000" shape-rendering="crispEdges"/><rect x="258" y="894" width="3" height="1" fill="#000000" shape-rendering="crispEdges"/>
<polygon points="255.5,890.5 257.3,894.3 255.2,897.2 252.8,894.3" fill="#000000"/>
<rect x="260" y="896" width="3" height="1" fill="#000000" shape-rendering="crispEdges"/><rect x="268" y="896" width="3" height="1" fill="#000000" shape-rendering="crispEdges"/>
<polygon points="265.5,892.5 267.3,896.3 265.2,899.2 262.8,896.3" fill="#000000"/>
<rect x="270" y="290" width="3" height="1" fill="#000000" shape-rendering="crispEdges"/><rect x="278" y="290" width="3" height="1" fill="#000000" shape-rendering="crispEdges"/>
<polygon points="275.5,286.5 277.3,290.3 275.2,293.2 272.8,290.3" fill="#000000"/>
<rect x="280" y="433" width="3" height="1" fill="#000000" shape-rendering="crispEdges"/><rect x="288" y="433" width="3" height="1" fill="#000000" shape-rendering="crispEdges"/>
<polygon points="285.5,429.5 287.3,433.3 285.2,436.2 282.8,433.3" fill="#000000"/>
<rect x="290" y="832" width="4" height="1" fill="#000000" shape-rendering="crispEdges"/><rect x="299" y="832" width="3" height="1" fill="#000000" shape-rendering="crispEdges"/>
<polygon points="296.5,828.5 298.3,832.3 296.2,835.2 293.8,832.3" fill="#000000"/>
<rect x="301" y="848" width="3" height="1" fill="#000000" shape-rendering="crispEdges"/><rect x="309" y="848" width="3" height="1" fill="#000000" shape-rendering="crispEdges"/>
<polygon points="306.5,844.5 308.3,848.3 306.2,851.2 303.8,848.3" fill="#000000"/>
<rect x="311" y="857" width="3" height="1" fill="#000000" shape-rendering="crispEdges"/><rect x="319" y="857" width="3" height="1" fill="#000000" shape-rendering="crispEdges"/>
<polygon points="316.5,853.5 318.3,857.3 316.2,860.2 313.8,857.3" fill="#000000"/>
<rect x="321" y="863" width="3" height="1" fill="#000000" shape-rendering="crispEdges"/><rect x="329" y="863" width="3" height="1" fill="#000000" shape-rendering="crispEdges"/>
<polygon points="326.5,859.5 328.3,863.3 326.2,866.2 323.8,863.3" fill="#000000"/>
<rect x="331" y="877" width="3" height="1" fill="#000000" shape-rendering="crispEdges"/><rect x="339" y="877" width="3" height="1" fill="#000000" shape-rendering="crispEdges"/>
<polygon points="336.5,873.5 338.3,877.3 336.2,880.2 333.8,877.3" fill="#000000"/>
<rect x="341" y="858" width="4" height="1" fill="#000000" shape-rendering="crispEdges"/><rect x="350" y="858" width="3" height="1" fill="#000000" shape-rendering="crispEdges"/>
<polygon points="347.5,854.5 349.3,858.3 347.2,861.2 344.8,858.3" fill="#000000"/>
<rect x="352" y="875" width="3" height="1" fill="#000000" shape-rendering="crispEdges"/><rect x="360" y="875" width="3" height="1" fill="#000000" shape-rendering="crispEdges"/>
<polygon points="357.5,871.5 359.3,875.3 357.2,878.2 354.8,875.3" fill="#000000"/>
<rect x="362" y="868" width="3" height="1" fill="#000000" shape-rendering="crispEdges"/><rect x="370" y="868" width="3" height="1" fill="#000000" shape-rendering="crispEdges"/>
<polygon points="367.5,864.5 369.3,868.3 367.2,871.2 364.8,868.3" fill="#000000"/>
<rect x="372" y="842" width="3" height="1" fill="#000000" shape-rendering="crispEdges"/><rect x="380" y="842" width="3" height="1" fill="#000000" shape-rendering="crispEdges"/>
<polygon points="377.5,838.5 379.3,842.3 377.2,845.2 374.8,842.3" fill="#000000"/>
<rect x="382" y="892" width="3" height="1" fill="#000000" shape-rendering="crispEdges"/><rect x="390" y="892" width="4" height="1" fill="#000000" shape-rendering="crispEdges"/>
<polygon points="387.5,888.5 389.3,892.3 387.2,895.2 384.8,892.3" fill="#000000"/>
<rect x="393" y="877" width="3" height="1" fill="#000000" shape-rendering="crispEdges"/><rect x="401" y="877" width="3" height="1" fill="#000000" shape-rendering="crispEdges"/>
<polygon points="398.5,873.5 400.3,877.3 398.2,880.2 395.8,877.3" fill="#000000"/>
<rect x="403" y="880" width="3" height="1" fill="#000000" shape-rendering="crispEdges"/><rect x="411" y="880" width="3" height="1" fill="#000000" shape-rendering="crispEdges"/>
<polygon points="408.5,876.5 410.3,880.3 408.2,883.2 405.8,880.3" fill="#000000"/>
<rect x="413" y="892" width="3" height="1" fill="#000000" shape-rendering="crispEdges"/><rect x="421" y="892" width="3" height="1" fill="#000000" shape-rendering="crispEdges"/>
<polygon points="418.5,888.5 420.3,892.3 418.2,895.2 415.8,892.3" fill="#000000"/>
<rect x="423" y="892" width="3" height="1" fill="#000000" shape-rendering="crispEdges"/><rect x="431" y="892" width="3" height="1" fill="#000000" shape-rendering="crispEdges"/>
<polygon points="428.5,888.5 430.3,892.3 428.2,895.2 425.8,892.3" fill="#000000"/>
<rect x="433" y="883" width="3" height="1" fill="#000000" shape-rendering="crispEdges"/><rect x="441" y="883" width="4" height="1" fill="#000000" shape-rendering="crispEdges"/>
<polygon points="438.5,879.5 440.3,883.3 438.2,886.2 435.8,883.3" fill="#000000"/>
<rect x="444" y="890" width="3" height="1" fill="#000000" shape-rendering="crispEdges"/><rect x="452" y="890" width="3" height="1" fill="#000000" shape-rendering="crispEdges"/>
<polygon points="449.5,886.5 451.3,890.3 449.2,893.2 446.8,890.3" fill="#000000"/>
<rect x="454" y="887" width="3" height="1" fill="#000000" shape-rendering="crispEdges"/><rect x="462" y="887" width="3" height="1" fill="#000000" shape-rendering="crispEdges"/>
<polygon points="459.5,883.5 461.3,887.3 459.2,890.2 456.8,887.3" fill="#000000"/>
<rect x="464" y="885" width="3" height="1" fill="#000000" shape-rendering="crispEdges"/><rect x="472" y="885" width="3" height="1" fill="#000000" shape-rendering="crispEdges"/>
<polygon points="469.5,881.5 471.3,885.3 469.2,888.2 466.8,885.3" fill="#000000"/>
<rect x="474" y="892" width="3" height="1" fill="#000000" shape-rendering="crispEdges"/><rect x="482" y="892" width="3" height="1" fill="#000000" shape-rendering="crispEdges"/>
<polygon points="479.5,888.5 481.3,892.3 479.2,895.2 476.8,892.3" fill="#000000"/>
<rect x="484" y="891" width="3" height="1" fill="#000000" shape-rendering="crispEdges"/><rect x="492" y="891" width="4" height="1" fill="#000000" shape-rendering="crispEdges"/>
<polygon points="489.5,887.5 491.3,891.3 489.2,894.2 486.8,891.3" fill="#000000"/>
<rect x="495" y="888" width="3" height="1" fill="#000000" shape-rendering="crispEdges"/><rect x="503" y="888" width="3" height="1" fill="#000000" shape-rendering="crispEdges"/>
<polygon points="500.5,884.5 502.3,888.3 500.2,891.2 497.8,888.3" fill="#000000"/>
<rect x="505" y="890" width="3" height="1" fill="#000000" shape-rendering="crispEdges"/><rect x="513" y="890" width="3" height="1" fill="#000000" shape-rendering="crispEdges"/>
<polygon points="510.5,886.5 512.3,890.3 510.2,893.2 507.8,890.3" fill="#000000"/>
<rect x="515" y="893" width="3" height="1" fill="#000000" shape-rendering="crispEdges"/><rect x="523" y="893" width="3" height="1" fill="#000000" shape-rendering="crispEdges"/>
<polygon points="520.5,889.5 522.3,893.3 520.2,896.2 517.8,893.3" fill="#000000"/>
<rect x="525" y="891" width="3" height="1" fill="#000000" shape-rendering="crispEdges"/><rect x="533" y="891" width="3" height="1" fill="#000000" shape-rendering="crispEdges"/>
<polygon points="530.5,887.5 532.3,891.3 530.2,894.2 527.8,891.3" fill="#000000"/>
<rect x="535" y="891" width="4" height="1" fill="#000000" shape-rendering="crispEdges"/><rect x="544" y="891" width="3" height="1" fill="#000000" shape-rendering="crispEdges"/>
<polygon points="541.5,887.5 543.3,891.3 541.2,894.2 538.8,891.3" fill="#000000"/>
<rect x="546" y="893" width="3" height="1" fill="#000000" shape-rendering="crispEdges"/><rect x="554" y="893" width="3" height="1" fill="#000000" shape-rendering="crispEdges"/>
<polygon points="551.5,889.5 553.3,893.3 551.2,896.2 548.8,893.3" fill="#000000"/>
<rect x="556" y="893" width="3" height="1" fill="#000000" shape-rendering="crispEdges"/><rect x="564" y="893" width="3" height="1" fill="#000000" shape-rendering="crispEdges"/>
<polygon points="561.5,889.5 563.3,893.3 561.2,896.2 558.8,893.3" fill="#000000"/>
<rect x="566" y="893" width="3" height="1" fill="#000000" shape-rendering="crispEdges"/><rect x="574" y="893" width="3" height="1" fill="#000000" shape-rendering="crispEdges"/>
<polygon points="571.5,889.5 573.3,893.3 571.2,896.2 568.8,893.3" fill="#000000"/>
<rect x="576" y="891" width="3" height="1" fill="#000000" shape-rendering="crispEdges"/><rect x="584" y="891" width="3" height="1" fill="#000000" shape-rendering="crispEdges"/>
<polygon points="581.5,887.5 583.3,891.3 581.2,894.2 578.8,891.3" fill="#000000"/>
<rect x="586" y="893" width="4" height="1" fill="#000000" shape-rendering="crispEdges"/><rect x="595" y="893" width="3" height="1" fill="#000000" shape-rendering="crispEdges"/>
<polygon points="592.5,889.5 594.3,893.3 592.2,896.2 589.8,893.3" fill="#000000"/>
<rect x="597" y="893" width="3" height="1" fill="#000000" shape-rendering="crispEdges"/><rect x="605" y="893" width="3" height="1" fill="#000000" shape-rendering="crispEdges"/>
<polygon points="602.5,889.5 604.3,893.3 602.2,896.2 599.8,893.3" fill="#000000"/>
<rect x="607" y="894" width="3" height="1" fill="#000000" shape-rendering="crispEdges"/><rect x="615" y="894" width="3" height="1" fill="#000000" shape-rendering="crispEdges"/>
<polygon points="612.5,890.5 614.3,894.3 612.2,897.2 609.8,894.3" fill="#000000"/>
<rect x="617" y="894" width="3" height="1" fill="#000000" shape-rendering="crispEdges"/><rect x="625" y="894" width="3" height="1" fill="#000000" shape-rendering="crispEdges"/>
<polygon points="622.5,890.5 624.3,894.3 622.2,897.2 619.8,894.3" fill="#000000"/>
<rect x="627" y="894" width="3" height="1" fill="#000000" shape-rendering="crispEdges"/><rect x="635" y="894" width="4" height="1" fill="#000000" shape-rendering="crispEdges"/>
<polygon points="632.5,890.5 634.3,894.3 632.2,897.2 629.8,894.3" fill="#000000"/>
<rect x="638" y="894" width="3" height="1" fill="#000000" shape-rendering="crispEdges"/><rect x="646" y="894" width="3" height="1" fill="#000000" shape-rendering="crispEdges"/>
<polygon points="643.5,890.5 645.3,894.3 643.2,897.2 640.8,894.3" fill="#000000"/>
<rect x="648" y="893" width="3" height="1" fill="#000000" shape-rendering="crispEdges"/><rect x="656" y="893" width="3" height="1" fill="#000000" shape-rendering="crispEdges"/>
<polygon points="653.5,889.5 655.3,893.3 653.2,896.2 650.8,893.3" fill="#000000"/>
<rect x="658" y="893" width="3" height="1" fill="#000000" shape-rendering="crispEdges"/><rect x="666" y="893" width="3" height="1" fill="#000000" shape-rendering="crispEdges"/>
<polygon points="663.5,889.5 665.3,893.3 663.2,896.2 660.8,893.3" fill="#000000"/>
<rect x="668" y="895" width="3" height="1" fill="#000000" shape-rendering="crispEdges"/><rect x="676" y="895" width="3" height="1" fill="#000000" shape-rendering="crispEdges"/>
<polygon points="673.5,891.5 675.3,895.3 673.2,898.2 670.8,895.3" fill="#000000"/>
<rect x="678" y="894" width="3" height="1" fill="#000000" shape-rendering="crispEdges"/><rect x="686" y="894" width="4" height="1" fill="#000000" shape-rendering="crispEdges"/>
<polygon points="683.5,890.5 685.3,894.3 683.2,897.2 680.8,894.3" fill="#000000"/>
<rect x="689" y="894" width="3" height="1" fill="#000000" shape-rendering="crispEdges"/><rect x="697" y="894" width="3" height="1" fill="#000000" shape-rendering="crispEdges"/>
<polygon points="694.5,890.5 696.3,894.3 694.2,897.2 691.8,894.3" fill="#000000"/>
<rect x="699" y="894" width="3" height="1" fill="#000000" shape-rendering="crispEdges"/><rect x="707" y="894" width="3" height="1" fill="#000000" shape-rendering="crispEdges"/>
<polygon points="704.5,890.5 706.3,894.3 704.2,897.2 701.8,894.3" fill="#000000"/>
<rect x="709" y="895" width="3" height="1" fill="#000000" shape-rendering="crispEdges"/><rect x="717" y="895" width="3" height="1" fill="#000000" shape-rendering="crispEdges"/>
<polygon points="714.5,891.5 716.3,895.3 714.2,898.2 711.8,895.3" fill="#000000"/>
<rect x="719" y="894" width="3" height="1" fill="#000000" shape-rendering="crispEdges"/><rect x="727" y="894" width="3" height="1" fill="#000000" shape-rendering="crispEdges"/>
<polygon points="724.5,890.5 726.3,894.3 724.2,897.2 721.8,894.3" fill="#000000"/>
<rect x="729" y="893" width="3" height="1" fill="#000000" shape-rendering="crispEdges"/><rect x="737" y="893" width="4" height="1" fill="#000000" shape-rendering="crispEdges"/>
<polygon points="734.5,889.5 736.3,893.3 734.2,896.2 731.8,893.3" fill="#000000"/>
<rect x="740" y="894" width="3" height="1" fill="#000000" shape-rendering="crispEdges"/><rect x="748" y="894" width="3" height="1" fill="#000000" shape-rendering="crispEdges"/>
<polygon points="745.5,890.5 747.3,894.3 745.2,897.2 742.8,894.3" fill="#000000"/>
<rect x="750" y="894" width="3" height="1" fill="#000000" shape-rendering="crispEdges"/><rect x="758" y="894" width="3" height="1" fill="#000000" shape-rendering="crispEdges"/>
<polygon points="755.5,890.5 757.3,894.3 755.2,897.2 752.8,894.3" fill="#000000"/>
<rect x="760" y="894" width="3" height="1" fill="#000000" shape-rendering="crispEdges"/><rect x="768" y="894" width="3" height="1" fill="#000000" shape-rendering="crispEdges"/>
<polygon points="765.5,890.5 767.3,894.3 765.2,897.2 762.8,894.3" fill="#000000"/>
<rect x="770" y="894" width="3" height="1" fill="#000000" shape-rendering="crispEdges"/><rect x="778" y="894" width="3" height="1" fill="#000000" shape-rendering="crispEdges"/>
<polygon points="775.5,890.5 777.3,894.3 775.2,897.2 772.8,894.3" fill="#000000"/>
<rect x="780" y="894" width="4" height="1" fill="#000000" shape-rendering="crispEdges"/><rect x="789" y="894" width="3" height="1" fill="#000000" shape-rendering="crispEdges"/>
<polygon points="786.5,890.5 788.3,894.3 786.2,897.2 783.8,894.3" fill="#000000"/>
<rect x="791" y="895" width="3" height="1" fill="#000000" shape-rendering="crispEdges"/><rect x="799" y="895" width="3" height="1" fill="#000000" shape-rendering="crispEdges"/>
<polygon points="796.5,891.5 798.3,895.3 796.2,898.2 793.8,895.3" fill="#000000"/>
<rect x="801" y="894" width="3" height="1" fill="#000000" shape-rendering="crispEdges"/><rect x="809" y="894" width="3" height="1" fill="#000000" shape-rendering="crispEdges"/>
<polygon points="806.5,890.5 808.3,894.3 806.2,897.2 803.8,894.3" fill="#000000"/>
<rect x="811" y="894" width="3" height="1" fill="#000000" shape-rendering="crispEdges"/><rect x="819" y="894" width="3" height="1" fill="#000000" shape-rendering="crispEdges"/>
<polygon points="816.5,890.5 818.3,894.3 816.2,897.2 813.8,894.3" fill="#000000"/>
<rect x="821" y="895" width="3" height="1" fill="#000000" shape-rendering="crispEdges"/><rect x="829" y="895" width="3" height="1" fill="#000000" shape-rendering="crispEdges"/>
<polygon points="826.5,891.5 828.3,895.3 826.2,898.2 823.8,895.3" fill="#000000"/>
<rect x="831" y="894" width="4" height="1" fill="#000000" shape-rendering="crispEdges"/><rect x="840" y="894" width="3" height="1" fill="#000000" shape-rendering="crispEdges"/>
<polygon points="837.5,890.5 839.3,894.3 837.2,897.2 834.8,894.3" fill="#000000"/>
<rect x="842" y="895" width="3" height="1" fill="#000000" shape-rendering="crispEdges"/><rect x="850" y="895" width="3" height="1" fill="#000000" shape-rendering="crispEdges"/>
<polygon points="847.5,891.5 849.3,895.3 847.2,898.2 844.8,895.3" fill="#000000"/>
<rect x="852" y="894" width="3" height="1" fill="#000000" shape-rendering="crispEdges"/><rect x="860" y="894" width="3" height="1" fill="#000000" shape-rendering="crispEdges"/>
<polygon points="857.5,890.5 859.3,894.3 857.2,897.2 854.8,894.3" fill="#000000"/>
<rect x="862" y="895" width="3" height="1" fill="#000000" shape-rendering="crispEdges"/><rect x="870" y="895" width="3" height="1" fill="#000000" shape-rendering="crispEdges"/>
<polygon points="867.5,891.5 869.3,895.3 867.2,898.2 864.8,895.3" fill="#000000"/>
<rect x="872" y="895" width="3" height="1" fill="#000000" shape-rendering="crispEdges"/><rect x="880" y="895" width="3" height="1" fill="#000000" shape-rendering="crispEdges"/>
<polygon points="877.5,891.5 879.3,895.3 877.2,898.2 874.8,895.3" fill="#000000"/>
<rect x="882" y="894" width="4" height="1" fill="#000000" shape-rendering="crispEdges"/><rect x="891" y="894" width="3" height="1" fill="#000000" shape-rendering="crispEdges"/>
<polygon points="888.5,890.5 890.3,894.3 888.2,897.2 885.8,894.3" fill="#000000"/>
<rect x="893" y="895" width="3" height="1" fill="#000000" shape-rendering="crispEdges"/><rect x="901" y="895" width="3" height="1" fill="#000000" shape-rendering="crispEdges"/>
<polygon points="898.5,891.5 900.3,895.3 898.2,898.2 895.8,895.3" fill="#000000"/>
<rect x="903" y="895" width="3" height="1" fill="#000000" shape-rendering="crispEdges"/><rect x="911" y="895" width="3" height="1" fill="#000000" shape-rendering="crispEdges"/>
<polygon points="908.5,891.5 910.3,895.3 908.2,898.2 905.8,895.3" fill="#000000"/>
<rect x="913" y="894" width="3" height="1" fill="#000000" shape-rendering="crispEdges"/><rect x="921" y="894" width="3" height="1" fill="#000000" shape-rendering="crispEdges"/>
<polygon points="918.5,890.5 920.3,894.3 918.2,897.2 915.8,894.3" fill="#000000"/>
<rect x="923" y="895" width="3" height="1" fill="#000000" shape-rendering="crispEdges"/><rect x="931" y="895" width="4" height="1" fill="#000000" shape-rendering="crispEdges"/>
<polygon points="928.5,891.5 930.3,895.3 928.2,898.2 925.8,895.3" fill="#000000"/>
<rect x="934" y="894" width="3" height="1" fill="#000000" shape-rendering="crispEdges"/><rect x="942" y="894" width="3" height="1" fill="#000000" shape-rendering="crispEdges"/>
<polygon points="939.5,890.5 941.3,894.3 939.2,897.2 936.8,894.3" fill="#000000"/>
<rect x="954" y="895" width="3" height="1" fill="#000000" shape-rendering="crispEdges"/><rect x="962" y="895" width="3" height="1" fill="#000000" shape-rendering="crispEdges"/>
<polygon points="959.5,891.5 961.3,895.3 959.2,898.2 956.8,895.3" fill="#000000"/>
<rect x="964" y="895" width="3" height="1" fill="#000000" shape-rendering="crispEdges"/><rect x="972" y="895" width="3" height="1" fill="#000000" shape-rendering="crispEdges"/>
<polygon points="969.5,891.5 971.3,895.3 969.2,898.2 966.8,895.3" fill="#000000"/>
<rect x="974" y="895" width="3" height="1" fill="#000000" shape-rendering="crispEdges"/><rect x="982" y="895" width="4" height="1" fill="#000000" shape-rendering="crispEdges"/>
<polygon points="979.5,891.5 981.3,895.3 979.2,898.2 976.8,895.3" fill="#000000"/>
<rect x="985" y="894" width="3" height="1" fill="#000000" shape-rendering="crispEdges"/><rect x="993" y="894" width="3" height="1" fill="#000000" shape-rendering="crispEdges"/>
<polygon points="990.5,890.5 992.3,894.3 990.2,897.2 987.8,894.3" fill="#000000"/>
<rect x="995" y="895" width="3" height="1" fill="#000000" shape-rendering="crispEdges"/><rect x="1003" y="895" width="3" height="1" fill="#000000" shape-rendering="crispEdges"/>
<polygon points="1000.5,891.5 1002.3,895.3 1000.2,898.2 997.8,895.3" fill="#000000"/>
<rect x="1005" y="895" width="3" height="1" fill="#000000" shape-rendering="crispEdges"/><rect x="1013" y="895" width="3" height="1" fill="#000000" shape-rendering="crispEdges"/>
<polygon points="1010.5,891.5 1012.3,895.3 1010.2,898.2 1007.8,895.3" fill="#000000"/>
<rect x="1036" y="894" width="3" height="1" fill="#000000" shape-rendering="crispEdges"/><rect x="1044" y="894" width="3" height="1" fill="#000000" shape-rendering="crispEdges"/>
<polygon points="1041.5,890.5 1043.3,894.3 1041.2,897.2 1038.8,894.3" fill="#000000"/>
<rect x="1046" y="895" width="3" height="1" fill="#000000" shape-rendering="crispEdges"/><rect x="1054" y="895" width="3" height="1" fill="#000000" shape-rendering="crispEdges"/>
<polygon points="1051.5,891.5 1053.3,895.3 1051.2,898.2 1048.8,895.3" fill="#000000"/>
<rect x="1056" y="895" width="3" height="1" fill="#000000" shape-rendering="crispEdges"/><rect x="1064" y="895" width="3" height="1" fill="#000000" shape-rendering="crispEdges"/>
<polygon points="1061.5,891.5 1063.3,895.3 1061.2,898.2 1058.8,895.3" fill="#000000"/>
<rect x="1066" y="895" width="3" height="1" fill="#000000" shape-rendering="crispEdges"/><rect x="1074" y="895" width="3" height="1" fill="#000000" shape-rendering="crispEdges"/>
<polygon points="1071.5,891.5 1073.3,895.3 1071.2,898.2 1068.8,895.3" fill="#000000"/>
<rect x="1076" y="895" width="4" height="1" fill="#000000" shape-rendering="crispEdges"/><rect x="1085" y="895" width="3" height="1" fill="#000000" shape-rendering="crispEdges"/>
<polygon points="1082.5,891.5 1084.3,895.3 1082.2,898.2 1079.8,895.3" fill="#000000"/>
<rect x="1087" y="895" width="3" height="1" fill="#000000" shape-rendering="crispEdges"/><rect x="1095" y="895" width="3" height="1" fill="#000000" shape-rendering="crispEdges"/>
<polygon points="1092.5,891.5 1094.3,895.3 1092.2,898.2 1089.8,895.3" fill="#000000"/>
<rect x="1138" y="895" width="3" height="1" fill="#000000" shape-rendering="crispEdges"/><rect x="1146" y="895" width="3" height="1" fill="#000000" shape-rendering="crispEdges"/>
<polygon points="1143.5,891.5 1145.3,895.3 1143.2,898.2 1140.8,895.3" fill="#000000"/>
</g>
<g id="sM">
<rect x="137" y="896" width="3" height="1" fill="#0000ff" shape-rendering="crispEdges"/><rect x="145" y="896" width="4" height="1" fill="#0000ff" shape-rendering="crispEdges"/>
<polygon points="141.25,893.00 143.75,893.00 146.00,895.00 146.00,898.00 143.75,900.00 141.25,900.00 139.00,898.00 139.00,895.00" fill="#0000ff"/><rect x="142" y="892" width="1" height="9" fill="#0000ff" opacity="0.18"/>
<rect x="168" y="896" width="3" height="1" fill="#0000ff" shape-rendering="crispEdges"/><rect x="176" y="896" width="3" height="1" fill="#0000ff" shape-rendering="crispEdges"/>
<polygon points="172.25,893.00 174.75,893.00 177.00,895.00 177.00,898.00 174.75,900.00 172.25,900.00 170.00,898.00 170.00,895.00" fill="#0000ff"/><rect x="173" y="892" width="1" height="9" fill="#0000ff" opacity="0.18"/>
<rect x="209" y="896" width="3" height="1" fill="#0000ff" shape-rendering="crispEdges"/><rect x="217" y="896" width="3" height="1" fill="#0000ff" shape-rendering="crispEdges"/>
<polygon points="213.25,893.00 215.75,893.00 218.00,895.00 218.00,898.00 215.75,900.00 213.25,900.00 211.00,898.00 211.00,895.00" fill="#0000ff"/><rect x="214" y="892" width="1" height="9" fill="#0000ff" opacity="0.18"/>
<rect x="250" y="893" width="3" height="1" fill="#0000ff" shape-rendering="crispEdges"/><rect x="258" y="893" width="3" height="1" fill="#0000ff" shape-rendering="crispEdges"/>
<polygon points="254.25,890.00 256.75,890.00 259.00,892.00 259.00,895.00 256.75,897.00 254.25,897.00 252.00,895.00 252.00,892.00" fill="#0000ff"/><rect x="255" y="889" width="1" height="9" fill="#0000ff" opacity="0.18"/>
<rect x="260" y="896" width="3" height="1" fill="#0000ff" shape-rendering="crispEdges"/><rect x="268" y="896" width="3" height="1" fill="#0000ff" shape-rendering="crispEdges"/>
<polygon points="264.25,893.00 266.75,893.00 269.00,895.00 269.00,898.00 266.75,900.00 264.25,900.00 262.00,898.00 262.00,895.00" fill="#0000ff"/><rect x="265" y="892" width="1" height="9" fill="#0000ff" opacity="0.18"/>
<rect x="270" y="329" width="3" height="1" fill="#0000ff" shape-rendering="crispEdges"/><rect x="278" y="329" width="3" height="1" fill="#0000ff" shape-rendering="crispEdges"/>
<polygon points="274.25,326.00 276.75,326.00 279.00,328.00 279.00,331.00 276.75,333.00 274.25,333.00 272.00,331.00 272.00,328.00" fill="#0000ff"/><rect x="275" y="325" width="1" height="9" fill="#0000ff" opacity="0.18"/>
<rect x="280" y="358" width="3" height="1" fill="#0000ff" shape-rendering="crispEdges"/><rect x="288" y="358" width="3" height="1" fill="#0000ff" shape-rendering="crispEdges"/>
<polygon points="284.25,355.00 286.75,355.00 289.00,357.00 289.00,360.00 286.75,362.00 284.25,362.00 282.00,360.00 282.00,357.00" fill="#0000ff"/><rect x="285" y="354" width="1" height="9" fill="#0000ff" opacity="0.18"/>
<rect x="290" y="761" width="4" height="1" fill="#0000ff" shape-rendering="crispEdges"/><rect x="299" y="761" width="3" height="1" fill="#0000ff" shape-rendering="crispEdges"/>
<polygon points="295.25,758.00 297.75,758.00 300.00,760.00 300.00,763.00 297.75,765.00 295.25,765.00 293.00,763.00 293.00,760.00" fill="#0000ff"/><rect x="296" y="757" width="1" height="9" fill="#0000ff" opacity="0.18"/>
<rect x="301" y="840" width="3" height="1" fill="#0000ff" shape-rendering="crispEdges"/><rect x="309" y="840" width="3" height="1" fill="#0000ff" shape-rendering="crispEdges"/>
<polygon points="305.25,837.00 307.75,837.00 310.00,839.00 310.00,842.00 307.75,844.00 305.25,844.00 303.00,842.00 303.00,839.00" fill="#0000ff"/><rect x="306" y="836" width="1" height="9" fill="#0000ff" opacity="0.18"/>
<rect x="311" y="876" width="3" height="1" fill="#0000ff" shape-rendering="crispEdges"/><rect x="319" y="876" width="3" height="1" fill="#0000ff" shape-rendering="crispEdges"/>
<polygon points="315.25,873.00 317.75,873.00 320.00,875.00 320.00,878.00 317.75,880.00 315.25,880.00 313.00,878.00 313.00,875.00" fill="#0000ff"/><rect x="316" y="872" width="1" height="9" fill="#0000ff" opacity="0.18"/>
<rect x="321" y="879" width="3" height="1" fill="#0000ff" shape-rendering="crispEdges"/><rect x="329" y="879" width="3" height="1" fill="#0000ff" shape-rendering="crispEdges"/>
<polygon points="325.25,876.00 327.75,876.00 330.00,878.00 330.00,881.00 327.75,883.00 325.25,883.00 323.00,881.00 323.00,878.00" fill="#0000ff"/><rect x="326" y="875" width="1" height="9" fill="#0000ff" opacity="0.18"/>
<rect x="331" y="861" width="3" height="1" fill="#0000ff" shape-rendering="crispEdges"/><rect x="339" y="861" width="3" height="1" fill="#0000ff" shape-rendering="crispEdges"/>
<polygon points="335.25,858.00 337.75,858.00 340.00,860.00 340.00,863.00 337.75,865.00 335.25,865.00 333.00,863.00 333.00,860.00" fill="#0000ff"/><rect x="336" y="857" width="1" height="9" fill="#0000ff" opacity="0.18"/>
<rect x="341" y="876" width="4" height="1" fill="#0000ff" shape-rendering="crispEdges"/><rect x="350" y="876" width="3" height="1" fill="#0000ff" shape-rendering="crispEdges"/>
<polygon points="346.25,873.00 348.75,873.00 351.00,875.00 351.00,878.00 348.75,880.00 346.25,880.00 344.00,878.00 344.00,875.00" fill="#0000ff"/><rect x="347" y="872" width="1" height="9" fill="#0000ff" opacity="0.18"/>
<rect x="352" y="887" width="3" height="1" fill="#0000ff" shape-rendering="crispEdges"/><rect x="360" y="887" width="3" height="1" fill="#0000ff" shape-rendering="crispEdges"/>
<polygon points="356.25,884.00 358.75,884.00 361.00,886.00 361.00,889.00 358.75,891.00 356.25,891.00 354.00,889.00 354.00,886.00" fill="#0000ff"/><rect x="357" y="883" width="1" height="9" fill="#0000ff" opacity="0.18"/>
<rect x="362" y="861" width="3" height="1" fill="#0000ff" shape-rendering="crispEdges"/><rect x="370" y="861" width="3" height="1" fill="#0000ff" shape-rendering="crispEdges"/>
<polygon points="366.25,858.00 368.75,858.00 371.00,860.00 371.00,863.00 368.75,865.00 366.25,865.00 364.00,863.00 364.00,860.00" fill="#0000ff"/><rect x="367" y="857" width="1" height="9" fill="#0000ff" opacity="0.18"/>
<rect x="372" y="824" width="3" height="1" fill="#0000ff" shape-rendering="crispEdges"/><rect x="380" y="824" width="3" height="1" fill="#0000ff" shape-rendering="crispEdges"/>
<polygon points="376.25,821.00 378.75,821.00 381.00,823.00 381.00,826.00 378.75,828.00 376.25,828.00 374.00,826.00 374.00,823.00" fill="#0000ff"/><rect x="377" y="820" width="1" height="9" fill="#0000ff" opacity="0.18"/>
<rect x="382" y="892" width="3" height="1" fill="#0000ff" shape-rendering="crispEdges"/><rect x="390" y="892" width="4" height="1" fill="#0000ff" shape-rendering="crispEdges"/>
<polygon points="386.25,889.00 388.75,889.00 391.00,891.00 391.00,894.00 388.75,896.00 386.25,896.00 384.00,894.00 384.00,891.00" fill="#0000ff"/><rect x="387" y="888" width="1" height="9" fill="#0000ff" opacity="0.18"/>
<rect x="393" y="887" width="3" height="1" fill="#0000ff" shape-rendering="crispEdges"/><rect x="401" y="887" width="3" height="1" fill="#0000ff" shape-rendering="crispEdges"/>
<polygon points="397.25,884.00 399.75,884.00 402.00,886.00 402.00,889.00 399.75,891.00 397.25,891.00 395.00,889.00 395.00,886.00" fill="#0000ff"/><rect x="398" y="883" width="1" height="9" fill="#0000ff" opacity="0.18"/>
<rect x="403" y="888" width="3" height="1" fill="#0000ff" shape-rendering="crispEdges"/><rect x="411" y="888" width="3" height="1" fill="#0000ff" shape-rendering="crispEdges"/>
<polygon points="407.25,885.00 409.75,885.00 412.00,887.00 412.00,890.00 409.75,892.00 407.25,892.00 405.00,890.00 405.00,887.00" fill="#0000ff"/><rect x="408" y="884" width="1" height="9" fill="#0000ff" opacity="0.18"/>
<rect x="413" y="893" width="3" height="1" fill="#0000ff" shape-rendering="crispEdges"/><rect x="421" y="893" width="3" height="1" fill="#0000ff" shape-rendering="crispEdges"/>
<polygon points="417.25,890.00 419.75,890.00 422.00,892.00 422.00,895.00 419.75,897.00 417.25,897.00 415.00,895.00 415.00,892.00" fill="#0000ff"/><rect x="418" y="889" width="1" height="9" fill="#0000ff" opacity="0.18"/>
<rect x="423" y="893" width="3" height="1" fill="#0000ff" shape-rendering="crispEdges"/><rect x="431" y="893" width="3" height="1" fill="#0000ff" shape-rendering="crispEdges"/>
<polygon points="427.25,890.00 429.75,890.00 432.00,892.00 432.00,895.00 429.75,897.00 427.25,897.00 425.00,895.00 425.00,892.00" fill="#0000ff"/><rect x="428" y="889" width="1" height="9" fill="#0000ff" opacity="0.18"/>
<rect x="433" y="890" width="3" height="1" fill="#0000ff" shape-rendering="crispEdges"/><rect x="441" y="890" width="4" height="1" fill="#0000ff" shape-rendering="crispEdges"/>
<polygon points="437.25,887.00 439.75,887.00 442.00,889.00 442.00,892.00 439.75,894.00 437.25,894.00 435.00,892.00 435.00,889.00" fill="#0000ff"/><rect x="438" y="886" width="1" height="9" fill="#0000ff" opacity="0.18"/>
<rect x="444" y="892" width="3" height="1" fill="#0000ff" shape-rendering="crispEdges"/><rect x="452" y="892" width="3" height="1" fill="#0000ff" shape-rendering="crispEdges"/>
<polygon points="448.25,889.00 450.75,889.00 453.00,891.00 453.00,894.00 450.75,896.00 448.25,896.00 446.00,894.00 446.00,891.00" fill="#0000ff"/><rect x="449" y="888" width="1" height="9" fill="#0000ff" opacity="0.18"/>
<rect x="454" y="892" width="3" height="1" fill="#0000ff" shape-rendering="crispEdges"/><rect x="462" y="892" width="3" height="1" fill="#0000ff" shape-rendering="crispEdges"/>
<polygon points="458.25,889.00 460.75,889.00 463.00,891.00 463.00,894.00 460.75,896.00 458.25,896.00 456.00,894.00 456.00,891.00" fill="#0000ff"/><rect x="459" y="888" width="1" height="9" fill="#0000ff" opacity="0.18"/>
<rect x="464" y="892" width="3" height="1" fill="#0000ff" shape-rendering="crispEdges"/><rect x="472" y="892" width="3" height="1" fill="#0000ff" shape-rendering="crispEdges"/>
<polygon points="468.25,889.00 470.75,889.00 473.00,891.00 473.00,894.00 470.75,896.00 468.25,896.00 466.00,894.00 466.00,891.00" fill="#0000ff"/><rect x="469" y="888" width="1" height="9" fill="#0000ff" opacity="0.18"/>
<rect x="474" y="894" width="3" height="1" fill="#0000ff" shape-rendering="crispEdges"/><rect x="482" y="894" width="3" height="1" fill="#0000ff" shape-rendering="crispEdges"/>
<polygon points="478.25,891.00 480.75,891.00 483.00,893.00 483.00,896.00 480.75,898.00 478.25,898.00 476.00,896.00 476.00,893.00" fill="#0000ff"/><rect x="479" y="890" width="1" height="9" fill="#0000ff" opacity="0.18"/>
<rect x="484" y="894" width="3" height="1" fill="#0000ff" shape-rendering="crispEdges"/><rect x="492" y="894" width="4" height="1" fill="#0000ff" shape-rendering="crispEdges"/>
<polygon points="488.25,891.00 490.75,891.00 493.00,893.00 493.00,896.00 490.75,898.00 488.25,898.00 486.00,896.00 486.00,893.00" fill="#0000ff"/><rect x="489" y="890" width="1" height="9" fill="#0000ff" opacity="0.18"/>
<rect x="495" y="892" width="3" height="1" fill="#0000ff" shape-rendering="crispEdges"/><rect x="503" y="892" width="3" height="1" fill="#0000ff" shape-rendering="crispEdges"/>
<polygon points="499.25,889.00 501.75,889.00 504.00,891.00 504.00,894.00 501.75,896.00 499.25,896.00 497.00,894.00 497.00,891.00" fill="#0000ff"/><rect x="500" y="888" width="1" height="9" fill="#0000ff" opacity="0.18"/>
<rect x="505" y="893" width="3" height="1" fill="#0000ff" shape-rendering="crispEdges"/><rect x="513" y="893" width="3" height="1" fill="#0000ff" shape-rendering="crispEdges"/>
<polygon points="509.25,890.00 511.75,890.00 514.00,892.00 514.00,895.00 511.75,897.00 509.25,897.00 507.00,895.00 507.00,892.00" fill="#0000ff"/><rect x="510" y="889" width="1" height="9" fill="#0000ff" opacity="0.18"/>
<rect x="515" y="895" width="3" height="1" fill="#0000ff" shape-rendering="crispEdges"/><rect x="523" y="895" width="3" height="1" fill="#0000ff" shape-rendering="crispEdges"/>
<polygon points="519.25,892.00 521.75,892.00 524.00,894.00 524.00,897.00 521.75,899.00 519.25,899.00 517.00,897.00 517.00,894.00" fill="#0000ff"/><rect x="520" y="891" width="1" height="9" fill="#0000ff" opacity="0.18"/>
<rect x="525" y="894" width="3" height="1" fill="#0000ff" shape-rendering="crispEdges"/><rect x="533" y="894" width="3" height="1" fill="#0000ff" shape-rendering="crispEdges"/>
<polygon points="529.25,891.00 531.75,891.00 534.00,893.00 534.00,896.00 531.75,898.00 529.25,898.00 527.00,896.00 527.00,893.00" fill="#0000ff"/><rect x="530" y="890" width="1" height="9" fill="#0000ff" opacity="0.18"/>
<rect x="535" y="894" width="4" height="1" fill="#0000ff" shape-rendering="crispEdges"/><rect x="544" y="894" width="3" height="1" fill="#0000ff" shape-rendering="crispEdges"/>
<polygon points="540.25,891.00 542.75,891.00 545.00,893.00 545.00,896.00 542.75,898.00 540.25,898.00 538.00,896.00 538.00,893.00" fill="#0000ff"/><rect x="541" y="890" width="1" height="9" fill="#0000ff" opacity="0.18"/>
<rect x="546" y="895" width="3" height="1" fill="#0000ff" shape-rendering="crispEdges"/><rect x="554" y="895" width="3" height="1" fill="#0000ff" shape-rendering="crispEdges"/>
<polygon points="550.25,892.00 552.75,892.00 555.00,894.00 555.00,897.00 552.75,899.00 550.25,899.00 548.00,897.00 548.00,894.00" fill="#0000ff"/><rect x="551" y="891" width="1" height="9" fill="#0000ff" opacity="0.18"/>
<rect x="556" y="895" width="3" height="1" fill="#0000ff" shape-rendering="crispEdges"/><rect x="564" y="895" width="3" height="1" fill="#0000ff" shape-rendering="crispEdges"/>
<polygon points="560.25,892.00 562.75,892.00 565.00,894.00 565.00,897.00 562.75,899.00 560.25,899.00 558.00,897.00 558.00,894.00" fill="#0000ff"/><rect x="561" y="891" width="1" height="9" fill="#0000ff" opacity="0.18"/>
<rect x="566" y="895" width="3" height="1" fill="#0000ff" shape-rendering="crispEdges"/><rect x="574" y="895" width="3" height="1" fill="#0000ff" shape-rendering="crispEdges"/>
<polygon points="570.25,892.00 572.75,892.00 575.00,894.00 575.00,897.00 572.75,899.00 570.25,899.00 568.00,897.00 568.00,894.00" fill="#0000ff"/><rect x="571" y="891" width="1" height="9" fill="#0000ff" opacity="0.18"/>
<rect x="576" y="894" width="3" height="1" fill="#0000ff" shape-rendering="crispEdges"/><rect x="584" y="894" width="3" height="1" fill="#0000ff" shape-rendering="crispEdges"/>
<polygon points="580.25,891.00 582.75,891.00 585.00,893.00 585.00,896.00 582.75,898.00 580.25,898.00 578.00,896.00 578.00,893.00" fill="#0000ff"/><rect x="581" y="890" width="1" height="9" fill="#0000ff" opacity="0.18"/>
<rect x="586" y="895" width="4" height="1" fill="#0000ff" shape-rendering="crispEdges"/><rect x="595" y="895" width="3" height="1" fill="#0000ff" shape-rendering="crispEdges"/>
<polygon points="591.25,892.00 593.75,892.00 596.00,894.00 596.00,897.00 593.75,899.00 591.25,899.00 589.00,897.00 589.00,894.00" fill="#0000ff"/><rect x="592" y="891" width="1" height="9" fill="#0000ff" opacity="0.18"/>
<rect x="597" y="894" width="3" height="1" fill="#0000ff" shape-rendering="crispEdges"/><rect x="605" y="894" width="3" height="1" fill="#0000ff" shape-rendering="crispEdges"/>
<polygon points="601.25,891.00 603.75,891.00 606.00,893.00 606.00,896.00 603.75,898.00 601.25,898.00 599.00,896.00 599.00,893.00" fill="#0000ff"/><rect x="602" y="890" width="1" height="9" fill="#0000ff" opacity="0.18"/>
<rect x="607" y="895" width="3" height="1" fill="#0000ff" shape-rendering="crispEdges"/><rect x="615" y="895" width="3" height="1" fill="#0000ff" shape-rendering="crispEdges"/>
<polygon points="611.25,892.00 613.75,892.00 616.00,894.00 616.00,897.00 613.75,899.00 611.25,899.00 609.00,897.00 609.00,894.00" fill="#0000ff"/><rect x="612" y="891" width="1" height="9" fill="#0000ff" opacity="0.18"/>
<rect x="617" y="895" width="3" height="1" fill="#0000ff" shape-rendering="crispEdges"/><rect x="625" y="895" width="3" height="1" fill="#0000ff" shape-rendering="crispEdges"/>
<polygon points="621.25,892.00 623.75,892.00 626.00,894.00 626.00,897.00 623.75,899.00 621.25,899.00 619.00,897.00 619.00,894.00" fill="#0000ff"/><rect x="622" y="891" width="1" height="9" fill="#0000ff" opacity="0.18"/>
<rect x="627" y="895" width="3" height="1" fill="#0000ff" shape-rendering="crispEdges"/><rect x="635" y="895" width="4" height="1" fill="#0000ff" shape-rendering="crispEdges"/>
<polygon points="631.25,892.00 633.75,892.00 636.00,894.00 636.00,897.00 633.75,899.00 631.25,899.00 629.00,897.00 629.00,894.00" fill="#0000ff"/><rect x="632" y="891" width="1" height="9" fill="#0000ff" opacity="0.18"/>
<rect x="638" y="895" width="3" height="1" fill="#0000ff" shape-rendering="crispEdges"/><rect x="646" y="895" width="3" height="1" fill="#0000ff" shape-rendering="crispEdges"/>
<polygon points="642.25,892.00 644.75,892.00 647.00,894.00 647.00,897.00 644.75,899.00 642.25,899.00 640.00,897.00 640.00,894.00" fill="#0000ff"/><rect x="643" y="891" width="1" height="9" fill="#0000ff" opacity="0.18"/>
<rect x="648" y="894" width="3" height="1" fill="#0000ff" shape-rendering="crispEdges"/><rect x="656" y="894" width="3" height="1" fill="#0000ff" shape-rendering="crispEdges"/>
<polygon points="652.25,891.00 654.75,891.00 657.00,893.00 657.00,896.00 654.75,898.00 652.25,898.00 650.00,896.00 650.00,893.00" fill="#0000ff"/><rect x="653" y="890" width="1" height="9" fill="#0000ff" opacity="0.18"/>
<rect x="658" y="894" width="3" height="1" fill="#0000ff" shape-rendering="crispEdges"/><rect x="666" y="894" width="3" height="1" fill="#0000ff" shape-rendering="crispEdges"/>
<polygon points="662.25,891.00 664.75,891.00 667.00,893.00 667.00,896.00 664.75,898.00 662.25,898.00 660.00,896.00 660.00,893.00" fill="#0000ff"/><rect x="663" y="890" width="1" height="9" fill="#0000ff" opacity="0.18"/>
<rect x="668" y="896" width="3" height="1" fill="#0000ff" shape-rendering="crispEdges"/><rect x="676" y="896" width="3" height="1" fill="#0000ff" shape-rendering="crispEdges"/>
<polygon points="672.25,893.00 674.75,893.00 677.00,895.00 677.00,898.00 674.75,900.00 672.25,900.00 670.00,898.00 670.00,895.00" fill="#0000ff"/><rect x="673" y="892" width="1" height="9" fill="#0000ff" opacity="0.18"/>
<rect x="678" y="895" width="3" height="1" fill="#0000ff" shape-rendering="crispEdges"/><rect x="686" y="895" width="4" height="1" fill="#0000ff" shape-rendering="crispEdges"/>
<polygon points="682.25,892.00 684.75,892.00 687.00,894.00 687.00,897.00 684.75,899.00 682.25,899.00 680.00,897.00 680.00,894.00" fill="#0000ff"/><rect x="683" y="891" width="1" height="9" fill="#0000ff" opacity="0.18"/>
<rect x="689" y="895" width="3" height="1" fill="#0000ff" shape-rendering="crispEdges"/><rect x="697" y="895" width="3" height="1" fill="#0000ff" shape-rendering="crispEdges"/>
<polygon points="693.25,892.00 695.75,892.00 698.00,894.00 698.00,897.00 695.75,899.00 693.25,899.00 691.00,897.00 691.00,894.00" fill="#0000ff"/><rect x="694" y="891" width="1" height="9" fill="#0000ff" opacity="0.18"/>
<rect x="699" y="895" width="3" height="1" fill="#0000ff" shape-rendering="crispEdges"/><rect x="707" y="895" width="3" height="1" fill="#0000ff" shape-rendering="crispEdges"/>
<polygon points="703.25,892.00 705.75,892.00 708.00,894.00 708.00,897.00 705.75,899.00 703.25,899.00 701.00,897.00 701.00,894.00" fill="#0000ff"/><rect x="704" y="891" width="1" height="9" fill="#0000ff" opacity="0.18"/>
<rect x="709" y="896" width="3" height="1" fill="#0000ff" shape-rendering="crispEdges"/><rect x="717" y="896" width="3" height="1" fill="#0000ff" shape-rendering="crispEdges"/>
<polygon points="713.25,893.00 715.75,893.00 718.00,895.00 718.00,898.00 715.75,900.00 713.25,900.00 711.00,898.00 711.00,895.00" fill="#0000ff"/><rect x="714" y="892" width="1" height="9" fill="#0000ff" opacity="0.18"/>
<rect x="719" y="895" width="3" height="1" fill="#0000ff" shape-rendering="crispEdges"/><rect x="727" y="895" width="3" height="1" fill="#0000ff" shape-rendering="crispEdges"/>
<polygon points="723.25,892.00 725.75,892.00 728.00,894.00 728.00,897.00 725.75,899.00 723.25,899.00 721.00,897.00 721.00,894.00" fill="#0000ff"/><rect x="724" y="891" width="1" height="9" fill="#0000ff" opacity="0.18"/>
<rect x="729" y="894" width="3" height="1" fill="#0000ff" shape-rendering="crispEdges"/><rect x="737" y="894" width="4" height="1" fill="#0000ff" shape-rendering="crispEdges"/>
<polygon points="733.25,891.00 735.75,891.00 738.00,893.00 738.00,896.00 735.75,898.00 733.25,898.00 731.00,896.00 731.00,893.00" fill="#0000ff"/><rect x="734" y="890" width="1" height="9" fill="#0000ff" opacity="0.18"/>
<rect x="740" y="895" width="3" height="1" fill="#0000ff" shape-rendering="crispEdges"/><rect x="748" y="895" width="3" height="1" fill="#0000ff" shape-rendering="crispEdges"/>
<polygon points="744.25,892.00 746.75,892.00 749.00,894.00 749.00,897.00 746.75,899.00 744.25,899.00 742.00,897.00 742.00,894.00" fill="#0000ff"/><rect x="745" y="891" width="1" height="9" fill="#0000ff" opacity="0.18"/>
<rect x="750" y="895" width="3" height="1" fill="#0000ff" shape-rendering="crispEdges"/><rect x="758" y="895" width="3" height="1" fill="#0000ff" shape-rendering="crispEdges"/>
<polygon points="754.25,892.00 756.75,892.00 759.00,894.00 759.00,897.00 756.75,899.00 754.25,899.00 752.00,897.00 752.00,894.00" fill="#0000ff"/><rect x="755" y="891" width="1" height="9" fill="#0000ff" opacity="0.18"/>
<rect x="760" y="895" width="3" height="1" fill="#0000ff" shape-rendering="crispEdges"/><rect x="768" y="895" width="3" height="1" fill="#0000ff" shape-rendering="crispEdges"/>
<polygon points="764.25,892.00 766.75,892.00 769.00,894.00 769.00,897.00 766.75,899.00 764.25,899.00 762.00,897.00 762.00,894.00" fill="#0000ff"/><rect x="765" y="891" width="1" height="9" fill="#0000ff" opacity="0.18"/>
<rect x="770" y="895" width="3" height="1" fill="#0000ff" shape-rendering="crispEdges"/><rect x="778" y="895" width="3" height="1" fill="#0000ff" shape-rendering="crispEdges"/>
<polygon points="774.25,892.00 776.75,892.00 779.00,894.00 779.00,897.00 776.75,899.00 774.25,899.00 772.00,897.00 772.00,894.00" fill="#0000ff"/><rect x="775" y="891" width="1" height="9" fill="#0000ff" opacity="0.18"/>
<rect x="780" y="895" width="4" height="1" fill="#0000ff" shape-rendering="crispEdges"/><rect x="789" y="895" width="3" height="1" fill="#0000ff" shape-rendering="crispEdges"/>
<polygon points="785.25,892.00 787.75,892.00 790.00,894.00 790.00,897.00 787.75,899.00 785.25,899.00 783.00,897.00 783.00,894.00" fill="#0000ff"/><rect x="786" y="891" width="1" height="9" fill="#0000ff" opacity="0.18"/>
<rect x="791" y="896" width="3" height="1" fill="#0000ff" shape-rendering="crispEdges"/><rect x="799" y="896" width="3" height="1" fill="#0000ff" shape-rendering="crispEdges"/>
<polygon points="795.25,893.00 797.75,893.00 800.00,895.00 800.00,898.00 797.75,900.00 795.25,900.00 793.00,898.00 793.00,895.00" fill="#0000ff"/><rect x="796" y="892" width="1" height="9" fill="#0000ff" opacity="0.18"/>
<rect x="801" y="895" width="3" height="1" fill="#0000ff" shape-rendering="crispEdges"/><rect x="809" y="895" width="3" height="1" fill="#0000ff" shape-rendering="crispEdges"/>
<polygon points="805.25,892.00 807.75,892.00 810.00,894.00 810.00,897.00 807.75,899.00 805.25,899.00 803.00,897.00 803.00,894.00" fill="#0000ff"/><rect x="806" y="891" width="1" height="9" fill="#0000ff" opacity="0.18"/>
<rect x="811" y="895" width="3" height="1" fill="#0000ff" shape-rendering="crispEdges"/><rect x="819" y="895" width="3" height="1" fill="#0000ff" shape-rendering="crispEdges"/>
<polygon points="815.25,892.00 817.75,892.00 820.00,894.00 820.00,897.00 817.75,899.00 815.25,899.00 813.00,897.00 813.00,894.00" fill="#0000ff"/><rect x="816" y="891" width="1" height="9" fill="#0000ff" opacity="0.18"/>
<rect x="821" y="896" width="3" height="1" fill="#0000ff" shape-rendering="crispEdges"/><rect x="829" y="896" width="3" height="1" fill="#0000ff" shape-rendering="crispEdges"/>
<polygon points="825.25,893.00 827.75,893.00 830.00,895.00 830.00,898.00 827.75,900.00 825.25,900.00 823.00,898.00 823.00,895.00" fill="#0000ff"/><rect x="826" y="892" width="1" height="9" fill="#0000ff" opacity="0.18"/>
<rect x="831" y="895" width="4" height="1" fill="#0000ff" shape-rendering="crispEdges"/><rect x="840" y="895" width="3" height="1" fill="#0000ff" shape-rendering="crispEdges"/>
<polygon points="836.25,892.00 838.75,892.00 841.00,894.00 841.00,897.00 838.75,899.00 836.25,899.00 834.00,897.00 834.00,894.00" fill="#0000ff"/><rect x="837" y="891" width="1" height="9" fill="#0000ff" opacity="0.18"/>
<rect x="842" y="896" width="3" height="1" fill="#0000ff" shape-rendering="crispEdges"/><rect x="850" y="896" width="3" height="1" fill="#0000ff" shape-rendering="crispEdges"/>
<polygon points="846.25,893.00 848.75,893.00 851.00,895.00 851.00,898.00 848.75,900.00 846.25,900.00 844.00,898.00 844.00,895.00" fill="#0000ff"/><rect x="847" y="892" width="1" height="9" fill="#0000ff" opacity="0.18"/>
<rect x="852" y="895" width="3" height="1" fill="#0000ff" shape-rendering="crispEdges"/><rect x="860" y="895" width="3" height="1" fill="#0000ff" shape-rendering="crispEdges"/>
<polygon points="856.25,892.00 858.75,892.00 861.00,894.00 861.00,897.00 858.75,899.00 856.25,899.00 854.00,897.00 854.00,894.00" fill="#0000ff"/><rect x="857" y="891" width="1" height="9" fill="#0000ff" opacity="0.18"/>
<rect x="862" y="896" width="3" height="1" fill="#0000ff" shape-rendering="crispEdges"/><rect x="870" y="896" width="3" height="1" fill="#0000ff" shape-rendering="crispEdges"/>
<polygon points="866.25,893.00 868.75,893.00 871.00,895.00 871.00,898.00 868.75,900.00 866.25,900.00 864.00,898.00 864.00,895.00" fill="#0000ff"/><rect x="867" y="892" width="1" height="9" fill="#0000ff" opacity="0.18"/>
<rect x="872" y="896" width="3" height="1" fill="#0000ff" shape-rendering="crispEdges"/><rect x="880" y="896" width="3" height="1" fill="#0000ff" shape-rendering="crispEdges"/>
<polygon points="876.25,893.00 878.75,893.00 881.00,895.00 881.00,898.00 878.75,900.00 876.25,900.00 874.00,898.00 874.00,895.00" fill="#0000ff"/><rect x="877" y="892" width="1" height="9" fill="#0000ff" opacity="0.18"/>
<rect x="882" y="895" width="4" height="1" fill="#0000ff" shape-rendering="crispEdges"/><rect x="891" y="895" width="3" height="1" fill="#0000ff" shape-rendering="crispEdges"/>
<polygon points="887.25,892.00 889.75,892.00 892.00,894.00 892.00,897.00 889.75,899.00 887.25,899.00 885.00,897.00 885.00,894.00" fill="#0000ff"/><rect x="888" y="891" width="1" height="9" fill="#0000ff" opacity="0.18"/>
<rect x="893" y="896" width="3" height="1" fill="#0000ff" shape-rendering="crispEdges"/><rect x="901" y="896" width="3" height="1" fill="#0000ff" shape-rendering="crispEdges"/>
<polygon points="897.25,893.00 899.75,893.00 902.00,895.00 902.00,898.00 899.75,900.00 897.25,900.00 895.00,898.00 895.00,895.00" fill="#0000ff"/><rect x="898" y="892" width="1" height="9" fill="#0000ff" opacity="0.18"/>
<rect x="903" y="896" width="3" height="1" fill="#0000ff" shape-rendering="crispEdges"/><rect x="911" y="896" width="3" height="1" fill="#0000ff" shape-rendering="crispEdges"/>
<polygon points="907.25,893.00 909.75,893.00 912.00,895.00 912.00,898.00 909.75,900.00 907.25,900.00 905.00,898.00 905.00,895.00" fill="#0000ff"/><rect x="908" y="892" width="1" height="9" fill="#0000ff" opacity="0.18"/>
<rect x="913" y="895" width="3" height="1" fill="#0000ff" shape-rendering="crispEdges"/><rect x="921" y="895" width="3" height="1" fill="#0000ff" shape-rendering="crispEdges"/>
<polygon points="917.25,892.00 919.75,892.00 922.00,894.00 922.00,897.00 919.75,899.00 917.25,899.00 915.00,897.00 915.00,894.00" fill="#0000ff"/><rect x="918" y="891" width="1" height="9" fill="#0000ff" opacity="0.18"/>
<rect x="923" y="896" width="3" height="1" fill="#0000ff" shape-rendering="crispEdges"/><rect x="931" y="896" width="4" height="1" fill="#0000ff" shape-rendering="crispEdges"/>
<polygon points="927.25,893.00 929.75,893.00 932.00,895.00 932.00,898.00 929.75,900.00 927.25,900.00 925.00,898.00 925.00,895.00" fill="#0000ff"/><rect x="928" y="892" width="1" height="9" fill="#0000ff" opacity="0.18"/>
<rect x="934" y="895" width="3" height="1" fill="#0000ff" shape-rendering="crispEdges"/><rect x="942" y="895" width="3" height="1" fill="#0000ff" shape-rendering="crispEdges"/>
<polygon points="938.25,892.00 940.75,892.00 943.00,894.00 943.00,897.00 940.75,899.00 938.25,899.00 936.00,897.00 936.00,894.00" fill="#0000ff"/><rect x="939" y="891" width="1" height="9" fill="#0000ff" opacity="0.18"/>
<rect x="954" y="896" width="3" height="1" fill="#0000ff" shape-rendering="crispEdges"/><rect x="962" y="896" width="3" height="1" fill="#0000ff" shape-rendering="crispEdges"/>
<polygon points="958.25,893.00 960.75,893.00 963.00,895.00 963.00,898.00 960.75,900.00 958.25,900.00 956.00,898.00 956.00,895.00" fill="#0000ff"/><rect x="959" y="892" width="1" height="9" fill="#0000ff" opacity="0.18"/>
<rect x="964" y="896" width="3" height="1" fill="#0000ff" shape-rendering="crispEdges"/><rect x="972" y="896" width="3" height="1" fill="#0000ff" shape-rendering="crispEdges"/>
<polygon points="968.25,893.00 970.75,893.00 973.00,895.00 973.00,898.00 970.75,900.00 968.25,900.00 966.00,898.00 966.00,895.00" fill="#0000ff"/><rect x="969" y="892" width="1" height="9" fill="#0000ff" opacity="0.18"/>
<rect x="974" y="896" width="3" height="1" fill="#0000ff" shape-rendering="crispEdges"/><rect x="982" y="896" width="4" height="1" fill="#0000ff" shape-rendering="crispEdges"/>
<polygon points="978.25,893.00 980.75,893.00 983.00,895.00 983.00,898.00 980.75,900.00 978.25,900.00 976.00,898.00 976.00,895.00" fill="#0000ff"/><rect x="979" y="892" width="1" height="9" fill="#0000ff" opacity="0.18"/>
<rect x="985" y="895" width="3" height="1" fill="#0000ff" shape-rendering="crispEdges"/><rect x="993" y="895" width="3" height="1" fill="#0000ff" shape-rendering="crispEdges"/>
<polygon points="989.25,892.00 991.75,892.00 994.00,894.00 994.00,897.00 991.75,899.00 989.25,899.00 987.00,897.00 987.00,894.00" fill="#0000ff"/><rect x="990" y="891" width="1" height="9" fill="#0000ff" opacity="0.18"/>
<rect x="995" y="896" width="3" height="1" fill="#0000ff" shape-rendering="crispEdges"/><rect x="1003" y="896" width="3" height="1" fill="#0000ff" shape-rendering="crispEdges"/>
<polygon points="999.25,893.00 1001.75,893.00 1004.00,895.00 1004.00,898.00 1001.75,900.00 999.25,900.00 997.00,898.00 997.00,895.00" fill="#0000ff"/><rect x="1000" y="892" width="1" height="9" fill="#0000ff" opacity="0.18"/>
<rect x="1005" y="896" width="3" height="1" fill="#0000ff" shape-rendering="crispEdges"/><rect x="1013" y="896" width="3" height="1" fill="#0000ff" shape-rendering="crispEdges"/>
<polygon points="1009.25,893.00 1011.75,893.00 1014.00,895.00 1014.00,898.00 1011.75,900.00 1009.25,900.00 1007.00,898.00 1007.00,895.00" fill="#0000ff"/><rect x="1010" y="892" width="1" height="9" fill="#0000ff" opacity="0.18"/>
<rect x="1036" y="895" width="3" height="1" fill="#0000ff" shape-rendering="crispEdges"/><rect x="1044" y="895" width="3" height="1" fill="#0000ff" shape-rendering="crispEdges"/>
<polygon points="1040.25,892.00 1042.75,892.00 1045.00,894.00 1045.00,897.00 1042.75,899.00 1040.25,899.00 1038.00,897.00 1038.00,894.00" fill="#0000ff"/><rect x="1041" y="891" width="1" height="9" fill="#0000ff" opacity="0.18"/>
<rect x="1046" y="896" width="3" height="1" fill="#0000ff" shape-rendering="crispEdges"/><rect x="1054" y="896" width="3" height="1" fill="#0000ff" shape-rendering="crispEdges"/>
<polygon points="1050.25,893.00 1052.75,893.00 1055.00,895.00 1055.00,898.00 1052.75,900.00 1050.25,900.00 1048.00,898.00 1048.00,895.00" fill="#0000ff"/><rect x="1051" y="892" width="1" height="9" fill="#0000ff" opacity="0.18"/>
<rect x="1056" y="896" width="3" height="1" fill="#0000ff" shape-rendering="crispEdges"/><rect x="1064" y="896" width="3" height="1" fill="#0000ff" shape-rendering="crispEdges"/>
<polygon points="1060.25,893.00 1062.75,893.00 1065.00,895.00 1065.00,898.00 1062.75,900.00 1060.25,900.00 1058.00,898.00 1058.00,895.00" fill="#0000ff"/><rect x="1061" y="892" width="1" height="9" fill="#0000ff" opacity="0.18"/>
<rect x="1066" y="896" width="3" height="1" fill="#0000ff" shape-rendering="crispEdges"/><rect x="1074" y="896" width="3" height="1" fill="#0000ff" shape-rendering="crispEdges"/>
<polygon points="1070.25,893.00 1072.75,893.00 1075.00,895.00 1075.00,898.00 1072.75,900.00 1070.25,900.00 1068.00,898.00 1068.00,895.00" fill="#0000ff"/><rect x="1071" y="892" width="1" height="9" fill="#0000ff" opacity="0.18"/>
<rect x="1076" y="896" width="4" height="1" fill="#0000ff" shape-rendering="crispEdges"/><rect x="1085" y="896" width="3" height="1" fill="#0000ff" shape-rendering="crispEdges"/>
<polygon points="1081.25,893.00 1083.75,893.00 1086.00,895.00 1086.00,898.00 1083.75,900.00 1081.25,900.00 1079.00,898.00 1079.00,895.00" fill="#0000ff"/><rect x="1082" y="892" width="1" height="9" fill="#0000ff" opacity="0.18"/>
<rect x="1087" y="896" width="3" height="1" fill="#0000ff" shape-rendering="crispEdges"/><rect x="1095" y="896" width="3" height="1" fill="#0000ff" shape-rendering="crispEdges"/>
<polygon points="1091.25,893.00 1093.75,893.00 1096.00,895.00 1096.00,898.00 1093.75,900.00 1091.25,900.00 1089.00,898.00 1089.00,895.00" fill="#0000ff"/><rect x="1092" y="892" width="1" height="9" fill="#0000ff" opacity="0.18"/>
<rect x="1138" y="896" width="3" height="1" fill="#0000ff" shape-rendering="crispEdges"/><rect x="1146" y="896" width="3" height="1" fill="#0000ff" shape-rendering="crispEdges"/>
<polygon points="1142.25,893.00 1144.75,893.00 1147.00,895.00 1147.00,898.00 1144.75,900.00 1142.25,900.00 1140.00,898.00 1140.00,895.00" fill="#0000ff"/><rect x="1143" y="892" width="1" height="9" fill="#0000ff" opacity="0.18"/>
</g>
<g id="sE">
<rect x="137" y="896" width="3" height="1" fill="#ff0000" shape-rendering="crispEdges"/><rect x="145" y="896" width="4" height="1" fill="#ff0000" shape-rendering="crispEdges"/>
<polygon points="142.5,892.6 145.3,899 138.9,899" fill="#ff0000"/>
<rect x="168" y="896" width="3" height="1" fill="#ff0000" shape-rendering="crispEdges"/><rect x="176" y="896" width="3" height="1" fill="#ff0000" shape-rendering="crispEdges"/>
<polygon points="173.5,892.6 176.3,899 169.9,899" fill="#ff0000"/>
<rect x="209" y="896" width="3" height="1" fill="#ff0000" shape-rendering="crispEdges"/><rect x="217" y="896" width="3" height="1" fill="#ff0000" shape-rendering="crispEdges"/>
<polygon points="214.5,892.6 217.3,899 210.9,899" fill="#ff0000"/>
<rect x="250" y="894" width="3" height="1" fill="#ff0000" shape-rendering="crispEdges"/><rect x="258" y="894" width="3" height="1" fill="#ff0000" shape-rendering="crispEdges"/>
<polygon points="255.5,890.6 258.3,897 251.9,897" fill="#ff0000"/>
<rect x="260" y="896" width="3" height="1" fill="#ff0000" shape-rendering="crispEdges"/><rect x="268" y="896" width="3" height="1" fill="#ff0000" shape-rendering="crispEdges"/>
<polygon points="265.5,892.6 268.3,899 261.9,899" fill="#ff0000"/>
<rect x="270" y="541" width="3" height="1" fill="#ff0000" shape-rendering="crispEdges"/><rect x="278" y="541" width="3" height="1" fill="#ff0000" shape-rendering="crispEdges"/>
<rect x="275" y="537" width="1" height="9" fill="#ff0000" shape-rendering="crispEdges"/><polygon points="275.5,537.6 278.3,544 271.9,544" fill="#ff0000"/>
<rect x="280" y="473" width="3" height="1" fill="#ff0000" shape-rendering="crispEdges"/><rect x="288" y="473" width="3" height="1" fill="#ff0000" shape-rendering="crispEdges"/>
<rect x="285" y="469" width="1" height="9" fill="#ff0000" shape-rendering="crispEdges"/><polygon points="285.5,469.6 288.3,476 281.9,476" fill="#ff0000"/>
<rect x="290" y="834" width="4" height="1" fill="#ff0000" shape-rendering="crispEdges"/><rect x="299" y="834" width="3" height="1" fill="#ff0000" shape-rendering="crispEdges"/>
<polygon points="296.5,830.6 299.3,837 292.9,837" fill="#ff0000"/>
<rect x="301" y="848" width="3" height="1" fill="#ff0000" shape-rendering="crispEdges"/><rect x="309" y="848" width="3" height="1" fill="#ff0000" shape-rendering="crispEdges"/>
<polygon points="306.5,844.6 309.3,851 302.9,851" fill="#ff0000"/>
<rect x="311" y="861" width="3" height="1" fill="#ff0000" shape-rendering="crispEdges"/><rect x="319" y="861" width="3" height="1" fill="#ff0000" shape-rendering="crispEdges"/>
<polygon points="316.5,857.6 319.3,864 312.9,864" fill="#ff0000"/>
<rect x="321" y="865" width="3" height="1" fill="#ff0000" shape-rendering="crispEdges"/><rect x="329" y="865" width="3" height="1" fill="#ff0000" shape-rendering="crispEdges"/>
<polygon points="326.5,861.6 329.3,868 322.9,868" fill="#ff0000"/>
<rect x="331" y="873" width="3" height="1" fill="#ff0000" shape-rendering="crispEdges"/><rect x="339" y="873" width="3" height="1" fill="#ff0000" shape-rendering="crispEdges"/>
<polygon points="336.5,869.6 339.3,876 332.9,876" fill="#ff0000"/>
<rect x="341" y="862" width="4" height="1" fill="#ff0000" shape-rendering="crispEdges"/><rect x="350" y="862" width="3" height="1" fill="#ff0000" shape-rendering="crispEdges"/>
<polygon points="347.5,858.6 350.3,865 343.9,865" fill="#ff0000"/>
<rect x="352" y="876" width="3" height="1" fill="#ff0000" shape-rendering="crispEdges"/><rect x="360" y="876" width="3" height="1" fill="#ff0000" shape-rendering="crispEdges"/>
<polygon points="357.5,872.6 360.3,879 353.9,879" fill="#ff0000"/>
<rect x="362" y="866" width="3" height="1" fill="#ff0000" shape-rendering="crispEdges"/><rect x="370" y="866" width="3" height="1" fill="#ff0000" shape-rendering="crispEdges"/>
<polygon points="367.5,862.6 370.3,869 363.9,869" fill="#ff0000"/>
<rect x="372" y="759" width="3" height="1" fill="#ff0000" shape-rendering="crispEdges"/><rect x="380" y="759" width="3" height="1" fill="#ff0000" shape-rendering="crispEdges"/>
<polygon points="377.5,755.6 380.3,762 373.9,762" fill="#ff0000"/>
<rect x="382" y="891" width="3" height="1" fill="#ff0000" shape-rendering="crispEdges"/><rect x="390" y="891" width="4" height="1" fill="#ff0000" shape-rendering="crispEdges"/>
<polygon points="387.5,887.6 390.3,894 383.9,894" fill="#ff0000"/>
<rect x="393" y="873" width="3" height="1" fill="#ff0000" shape-rendering="crispEdges"/><rect x="401" y="873" width="3" height="1" fill="#ff0000" shape-rendering="crispEdges"/>
<polygon points="398.5,869.6 401.3,876 394.9,876" fill="#ff0000"/>
<rect x="403" y="876" width="3" height="1" fill="#ff0000" shape-rendering="crispEdges"/><rect x="411" y="876" width="3" height="1" fill="#ff0000" shape-rendering="crispEdges"/>
<polygon points="408.5,872.6 411.3,879 404.9,879" fill="#ff0000"/>
<rect x="413" y="889" width="3" height="1" fill="#ff0000" shape-rendering="crispEdges"/><rect x="421" y="889" width="3" height="1" fill="#ff0000" shape-rendering="crispEdges"/>
<polygon points="418.5,885.6 421.3,892 414.9,892" fill="#ff0000"/>
<rect x="423" y="889" width="3" height="1" fill="#ff0000" shape-rendering="crispEdges"/><rect x="431" y="889" width="3" height="1" fill="#ff0000" shape-rendering="crispEdges"/>
<polygon points="428.5,885.6 431.3,892 424.9,892" fill="#ff0000"/>
<rect x="433" y="881" width="3" height="1" fill="#ff0000" shape-rendering="crispEdges"/><rect x="441" y="881" width="4" height="1" fill="#ff0000" shape-rendering="crispEdges"/>
<polygon points="438.5,877.6 441.3,884 434.9,884" fill="#ff0000"/>
<rect x="444" y="888" width="3" height="1" fill="#ff0000" shape-rendering="crispEdges"/><rect x="452" y="888" width="3" height="1" fill="#ff0000" shape-rendering="crispEdges"/>
<polygon points="449.5,884.6 452.3,891 445.9,891" fill="#ff0000"/>
<rect x="454" y="884" width="3" height="1" fill="#ff0000" shape-rendering="crispEdges"/><rect x="462" y="884" width="3" height="1" fill="#ff0000" shape-rendering="crispEdges"/>
<polygon points="459.5,880.6 462.3,887 455.9,887" fill="#ff0000"/>
<rect x="464" y="885" width="3" height="1" fill="#ff0000" shape-rendering="crispEdges"/><rect x="472" y="885" width="3" height="1" fill="#ff0000" shape-rendering="crispEdges"/>
<polygon points="469.5,881.6 472.3,888 465.9,888" fill="#ff0000"/>
<rect x="474" y="890" width="3" height="1" fill="#ff0000" shape-rendering="crispEdges"/><rect x="482" y="890" width="3" height="1" fill="#ff0000" shape-rendering="crispEdges"/>
<polygon points="479.5,886.6 482.3,893 475.9,893" fill="#ff0000"/>
<rect x="484" y="889" width="3" height="1" fill="#ff0000" shape-rendering="crispEdges"/><rect x="492" y="889" width="4" height="1" fill="#ff0000" shape-rendering="crispEdges"/>
<polygon points="489.5,885.6 492.3,892 485.9,892" fill="#ff0000"/>
<rect x="495" y="885" width="3" height="1" fill="#ff0000" shape-rendering="crispEdges"/><rect x="503" y="885" width="3" height="1" fill="#ff0000" shape-rendering="crispEdges"/>
<polygon points="500.5,881.6 503.3,888 496.9,888" fill="#ff0000"/>
<rect x="505" y="887" width="3" height="1" fill="#ff0000" shape-rendering="crispEdges"/><rect x="513" y="887" width="3" height="1" fill="#ff0000" shape-rendering="crispEdges"/>
<polygon points="510.5,883.6 513.3,890 506.9,890" fill="#ff0000"/>
<rect x="515" y="891" width="3" height="1" fill="#ff0000" shape-rendering="crispEdges"/><rect x="523" y="891" width="3" height="1" fill="#ff0000" shape-rendering="crispEdges"/>
<polygon points="520.5,887.6 523.3,894 516.9,894" fill="#ff0000"/>
<rect x="525" y="888" width="3" height="1" fill="#ff0000" shape-rendering="crispEdges"/><rect x="533" y="888" width="3" height="1" fill="#ff0000" shape-rendering="crispEdges"/>
<polygon points="530.5,884.6 533.3,891 526.9,891" fill="#ff0000"/>
<rect x="535" y="889" width="4" height="1" fill="#ff0000" shape-rendering="crispEdges"/><rect x="544" y="889" width="3" height="1" fill="#ff0000" shape-rendering="crispEdges"/>
<polygon points="541.5,885.6 544.3,892 537.9,892" fill="#ff0000"/>
<rect x="546" y="891" width="3" height="1" fill="#ff0000" shape-rendering="crispEdges"/><rect x="554" y="891" width="3" height="1" fill="#ff0000" shape-rendering="crispEdges"/>
<polygon points="551.5,887.6 554.3,894 547.9,894" fill="#ff0000"/>
<rect x="556" y="891" width="3" height="1" fill="#ff0000" shape-rendering="crispEdges"/><rect x="564" y="891" width="3" height="1" fill="#ff0000" shape-rendering="crispEdges"/>
<polygon points="561.5,887.6 564.3,894 557.9,894" fill="#ff0000"/>
<rect x="566" y="892" width="3" height="1" fill="#ff0000" shape-rendering="crispEdges"/><rect x="574" y="892" width="3" height="1" fill="#ff0000" shape-rendering="crispEdges"/>
<polygon points="571.5,888.6 574.3,895 567.9,895" fill="#ff0000"/>
<rect x="576" y="889" width="3" height="1" fill="#ff0000" shape-rendering="crispEdges"/><rect x="584" y="889" width="3" height="1" fill="#ff0000" shape-rendering="crispEdges"/>
<polygon points="581.5,885.6 584.3,892 577.9,892" fill="#ff0000"/>
<rect x="586" y="892" width="4" height="1" fill="#ff0000" shape-rendering="crispEdges"/><rect x="595" y="892" width="3" height="1" fill="#ff0000" shape-rendering="crispEdges"/>
<polygon points="592.5,888.6 595.3,895 588.9,895" fill="#ff0000"/>
<rect x="597" y="888" width="3" height="1" fill="#ff0000" shape-rendering="crispEdges"/><rect x="605" y="888" width="3" height="1" fill="#ff0000" shape-rendering="crispEdges"/>
<polygon points="602.5,884.6 605.3,891 598.9,891" fill="#ff0000"/>
<rect x="607" y="889" width="3" height="1" fill="#ff0000" shape-rendering="crispEdges"/><rect x="615" y="889" width="3" height="1" fill="#ff0000" shape-rendering="crispEdges"/>
<polygon points="612.5,885.6 615.3,892 608.9,892" fill="#ff0000"/>
<rect x="617" y="889" width="3" height="1" fill="#ff0000" shape-rendering="crispEdges"/><rect x="625" y="889" width="3" height="1" fill="#ff0000" shape-rendering="crispEdges"/>
<polygon points="622.5,885.6 625.3,892 618.9,892" fill="#ff0000"/>
<rect x="627" y="892" width="3" height="1" fill="#ff0000" shape-rendering="crispEdges"/><rect x="635" y="892" width="4" height="1" fill="#ff0000" shape-rendering="crispEdges"/>
<polygon points="632.5,888.6 635.3,895 628.9,895" fill="#ff0000"/>
<rect x="638" y="893" width="3" height="1" fill="#ff0000" shape-rendering="crispEdges"/><rect x="646" y="893" width="3" height="1" fill="#ff0000" shape-rendering="crispEdges"/>
<polygon points="643.5,889.6 646.3,896 639.9,896" fill="#ff0000"/>
<rect x="648" y="887" width="3" height="1" fill="#ff0000" shape-rendering="crispEdges"/><rect x="656" y="887" width="3" height="1" fill="#ff0000" shape-rendering="crispEdges"/>
<polygon points="653.5,883.6 656.3,890 649.9,890" fill="#ff0000"/>
<rect x="658" y="889" width="3" height="1" fill="#ff0000" shape-rendering="crispEdges"/><rect x="666" y="889" width="3" height="1" fill="#ff0000" shape-rendering="crispEdges"/>
<polygon points="663.5,885.6 666.3,892 659.9,892" fill="#ff0000"/>
<rect x="668" y="894" width="3" height="1" fill="#ff0000" shape-rendering="crispEdges"/><rect x="676" y="894" width="3" height="1" fill="#ff0000" shape-rendering="crispEdges"/>
<polygon points="673.5,890.6 676.3,897 669.9,897" fill="#ff0000"/>
<rect x="678" y="893" width="3" height="1" fill="#ff0000" shape-rendering="crispEdges"/><rect x="686" y="893" width="4" height="1" fill="#ff0000" shape-rendering="crispEdges"/>
<polygon points="683.5,889.6 686.3,896 679.9,896" fill="#ff0000"/>
<rect x="689" y="888" width="3" height="1" fill="#ff0000" shape-rendering="crispEdges"/><rect x="697" y="888" width="3" height="1" fill="#ff0000" shape-rendering="crispEdges"/>
<polygon points="694.5,884.6 697.3,891 690.9,891" fill="#ff0000"/>
<rect x="699" y="890" width="3" height="1" fill="#ff0000" shape-rendering="crispEdges"/><rect x="707" y="890" width="3" height="1" fill="#ff0000" shape-rendering="crispEdges"/>
<polygon points="704.5,886.6 707.3,893 700.9,893" fill="#ff0000"/>
<rect x="709" y="894" width="3" height="1" fill="#ff0000" shape-rendering="crispEdges"/><rect x="717" y="894" width="3" height="1" fill="#ff0000" shape-rendering="crispEdges"/>
<polygon points="714.5,890.6 717.3,897 710.9,897" fill="#ff0000"/>
<rect x="719" y="892" width="3" height="1" fill="#ff0000" shape-rendering="crispEdges"/><rect x="727" y="892" width="3" height="1" fill="#ff0000" shape-rendering="crispEdges"/>
<polygon points="724.5,888.6 727.3,895 720.9,895" fill="#ff0000"/>
<rect x="729" y="886" width="3" height="1" fill="#ff0000" shape-rendering="crispEdges"/><rect x="737" y="886" width="4" height="1" fill="#ff0000" shape-rendering="crispEdges"/>
<polygon points="734.5,882.6 737.3,889 730.9,889" fill="#ff0000"/>
<rect x="740" y="894" width="3" height="1" fill="#ff0000" shape-rendering="crispEdges"/><rect x="748" y="894" width="3" height="1" fill="#ff0000" shape-rendering="crispEdges"/>
<polygon points="745.5,890.6 748.3,897 741.9,897" fill="#ff0000"/>
<rect x="750" y="889" width="3" height="1" fill="#ff0000" shape-rendering="crispEdges"/><rect x="758" y="889" width="3" height="1" fill="#ff0000" shape-rendering="crispEdges"/>
<polygon points="755.5,885.6 758.3,892 751.9,892" fill="#ff0000"/>
<rect x="760" y="889" width="3" height="1" fill="#ff0000" shape-rendering="crispEdges"/><rect x="768" y="889" width="3" height="1" fill="#ff0000" shape-rendering="crispEdges"/>
<polygon points="765.5,885.6 768.3,892 761.9,892" fill="#ff0000"/>
<rect x="770" y="892" width="3" height="1" fill="#ff0000" shape-rendering="crispEdges"/><rect x="778" y="892" width="3" height="1" fill="#ff0000" shape-rendering="crispEdges"/>
<polygon points="775.5,888.6 778.3,895 771.9,895" fill="#ff0000"/>
<rect x="780" y="890" width="4" height="1" fill="#ff0000" shape-rendering="crispEdges"/><rect x="789" y="890" width="3" height="1" fill="#ff0000" shape-rendering="crispEdges"/>
<polygon points="786.5,886.6 789.3,893 782.9,893" fill="#ff0000"/>
<rect x="791" y="893" width="3" height="1" fill="#ff0000" shape-rendering="crispEdges"/><rect x="799" y="893" width="3" height="1" fill="#ff0000" shape-rendering="crispEdges"/>
<polygon points="796.5,889.6 799.3,896 792.9,896" fill="#ff0000"/>
<rect x="801" y="890" width="3" height="1" fill="#ff0000" shape-rendering="crispEdges"/><rect x="809" y="890" width="3" height="1" fill="#ff0000" shape-rendering="crispEdges"/>
<polygon points="806.5,886.6 809.3,893 802.9,893" fill="#ff0000"/>
<rect x="811" y="892" width="3" height="1" fill="#ff0000" shape-rendering="crispEdges"/><rect x="819" y="892" width="3" height="1" fill="#ff0000" shape-rendering="crispEdges"/>
<polygon points="816.5,888.6 819.3,895 812.9,895" fill="#ff0000"/>
<rect x="821" y="894" width="3" height="1" fill="#ff0000" shape-rendering="crispEdges"/><rect x="829" y="894" width="3" height="1" fill="#ff0000" shape-rendering="crispEdges"/>
<polygon points="826.5,890.6 829.3,897 822.9,897" fill="#ff0000"/>
<rect x="831" y="890" width="4" height="1" fill="#ff0000" shape-rendering="crispEdges"/><rect x="840" y="890" width="3" height="1" fill="#ff0000" shape-rendering="crispEdges"/>
<polygon points="837.5,886.6 840.3,893 833.9,893" fill="#ff0000"/>
<rect x="842" y="894" width="3" height="1" fill="#ff0000" shape-rendering="crispEdges"/><rect x="850" y="894" width="3" height="1" fill="#ff0000" shape-rendering="crispEdges"/>
<polygon points="847.5,890.6 850.3,897 843.9,897" fill="#ff0000"/>
<rect x="852" y="891" width="3" height="1" fill="#ff0000" shape-rendering="crispEdges"/><rect x="860" y="891" width="3" height="1" fill="#ff0000" shape-rendering="crispEdges"/>
<polygon points="857.5,887.6 860.3,894 853.9,894" fill="#ff0000"/>
<rect x="862" y="895" width="3" height="1" fill="#ff0000" shape-rendering="crispEdges"/><rect x="870" y="895" width="3" height="1" fill="#ff0000" shape-rendering="crispEdges"/>
<polygon points="867.5,891.6 870.3,898 863.9,898" fill="#ff0000"/>
<rect x="872" y="893" width="3" height="1" fill="#ff0000" shape-rendering="crispEdges"/><rect x="880" y="893" width="3" height="1" fill="#ff0000" shape-rendering="crispEdges"/>
<polygon points="877.5,889.6 880.3,896 873.9,896" fill="#ff0000"/>
<rect x="882" y="888" width="4" height="1" fill="#ff0000" shape-rendering="crispEdges"/><rect x="891" y="888" width="3" height="1" fill="#ff0000" shape-rendering="crispEdges"/>
<polygon points="888.5,884.6 891.3,891 884.9,891" fill="#ff0000"/>
<rect x="893" y="894" width="3" height="1" fill="#ff0000" shape-rendering="crispEdges"/><rect x="901" y="894" width="3" height="1" fill="#ff0000" shape-rendering="crispEdges"/>
<polygon points="898.5,890.6 901.3,897 894.9,897" fill="#ff0000"/>
<rect x="903" y="891" width="3" height="1" fill="#ff0000" shape-rendering="crispEdges"/><rect x="911" y="891" width="3" height="1" fill="#ff0000" shape-rendering="crispEdges"/>
<polygon points="908.5,887.6 911.3,894 904.9,894" fill="#ff0000"/>
<rect x="913" y="890" width="3" height="1" fill="#ff0000" shape-rendering="crispEdges"/><rect x="921" y="890" width="3" height="1" fill="#ff0000" shape-rendering="crispEdges"/>
<polygon points="918.5,886.6 921.3,893 914.9,893" fill="#ff0000"/>
<rect x="923" y="895" width="3" height="1" fill="#ff0000" shape-rendering="crispEdges"/><rect x="931" y="895" width="4" height="1" fill="#ff0000" shape-rendering="crispEdges"/>
<polygon points="928.5,891.6 931.3,898 924.9,898" fill="#ff0000"/>
<rect x="934" y="890" width="3" height="1" fill="#ff0000" shape-rendering="crispEdges"/><rect x="942" y="890" width="3" height="1" fill="#ff0000" shape-rendering="crispEdges"/>
<polygon points="939.5,886.6 942.3,893 935.9,893" fill="#ff0000"/>
<rect x="954" y="893" width="3" height="1" fill="#ff0000" shape-rendering="crispEdges"/><rect x="962" y="893" width="3" height="1" fill="#ff0000" shape-rendering="crispEdges"/>
<polygon points="959.5,889.6 962.3,896 955.9,896" fill="#ff0000"/>
<rect x="964" y="892" width="3" height="1" fill="#ff0000" shape-rendering="crispEdges"/><rect x="972" y="892" width="3" height="1" fill="#ff0000" shape-rendering="crispEdges"/>
<polygon points="969.5,888.6 972.3,895 965.9,895" fill="#ff0000"/>
<rect x="974" y="889" width="3" height="1" fill="#ff0000" shape-rendering="crispEdges"/><rect x="982" y="889" width="4" height="1" fill="#ff0000" shape-rendering="crispEdges"/>
<polygon points="979.5,885.6 982.3,892 975.9,892" fill="#ff0000"/>
<rect x="985" y="889" width="3" height="1" fill="#ff0000" shape-rendering="crispEdges"/><rect x="993" y="889" width="3" height="1" fill="#ff0000" shape-rendering="crispEdges"/>
<polygon points="990.5,885.6 993.3,892 986.9,892" fill="#ff0000"/>
<rect x="995" y="894" width="3" height="1" fill="#ff0000" shape-rendering="crispEdges"/><rect x="1003" y="894" width="3" height="1" fill="#ff0000" shape-rendering="crispEdges"/>
<polygon points="1000.5,890.6 1003.3,897 996.9,897" fill="#ff0000"/>
<rect x="1005" y="891" width="3" height="1" fill="#ff0000" shape-rendering="crispEdges"/><rect x="1013" y="891" width="3" height="1" fill="#ff0000" shape-rendering="crispEdges"/>
<polygon points="1010.5,887.6 1013.3,894 1006.9,894" fill="#ff0000"/>
<rect x="1036" y="887" width="3" height="1" fill="#ff0000" shape-rendering="crispEdges"/><rect x="1044" y="887" width="3" height="1" fill="#ff0000" shape-rendering="crispEdges"/>
<polygon points="1041.5,883.6 1044.3,890 1037.9,890" fill="#ff0000"/>
<rect x="1046" y="891" width="3" height="1" fill="#ff0000" shape-rendering="crispEdges"/><rect x="1054" y="891" width="3" height="1" fill="#ff0000" shape-rendering="crispEdges"/>
<polygon points="1051.5,887.6 1054.3,894 1047.9,894" fill="#ff0000"/>
<rect x="1056" y="892" width="3" height="1" fill="#ff0000" shape-rendering="crispEdges"/><rect x="1064" y="892" width="3" height="1" fill="#ff0000" shape-rendering="crispEdges"/>
<polygon points="1061.5,888.6 1064.3,895 1057.9,895" fill="#ff0000"/>
<rect x="1066" y="895" width="3" height="1" fill="#ff0000" shape-rendering="crispEdges"/><rect x="1074" y="895" width="3" height="1" fill="#ff0000" shape-rendering="crispEdges"/>
<polygon points="1071.5,891.6 1074.3,898 1067.9,898" fill="#ff0000"/>
<rect x="1076" y="893" width="4" height="1" fill="#ff0000" shape-rendering="crispEdges"/><rect x="1085" y="893" width="3" height="1" fill="#ff0000" shape-rendering="crispEdges"/>
<polygon points="1082.5,889.6 1085.3,896 1078.9,896" fill="#ff0000"/>
<rect x="1087" y="893" width="3" height="1" fill="#ff0000" shape-rendering="crispEdges"/><rect x="1095" y="893" width="3" height="1" fill="#ff0000" shape-rendering="crispEdges"/>
<polygon points="1092.5,889.6 1095.3,896 1088.9,896" fill="#ff0000"/>
<rect x="1138" y="894" width="3" height="1" fill="#ff0000" shape-rendering="crispEdges"/><rect x="1146" y="894" width="3" height="1" fill="#ff0000" shape-rendering="crispEdges"/>
<polygon points="1143.5,890.6 1146.3,897 1139.9,897" fill="#ff0000"/>
</g>
<g id="legend">
<rect x="599" y="105" width="87" height="148" fill="#000" shape-rendering="crispEdges"/>
<rect x="593" y="99" width="90" height="151" fill="#000" shape-rendering="crispEdges"/>
<rect x="594" y="100" width="88" height="149" fill="#f0f0f0" shape-rendering="crispEdges"/>
<clipPath id="lc"><rect x="594" y="100" width="88" height="149"/></clipPath>
<g clip-path="url(#lc)">
<polygon points="598.5,108.5 601.6,115 595.2,115" fill="#ff0000"/>
<text x="604.7" y="116.6" font-size="18.85" font-weight="bold">Electron</text>
<polygon points="597.25,133.00 599.75,133.00 602.00,135.00 602.00,138.00 599.75,140.00 597.25,140.00 595.00,138.00 595.00,135.00" fill="#0000ff"/><rect x="598" y="132" width="1" height="9" fill="#0000ff" opacity="0.18"/>
<text x="604.7" y="141.6" font-size="18.85" font-weight="bold">Muon</text>
<polygon points="594,157 601,157 598.5,164" fill="#009900"/>
<text x="604.7" y="166.6" font-size="18.85" font-weight="bold">Pion</text>
<rect x="594" y="182" width="6" height="6" fill="#990099" shape-rendering="crispEdges"/>
<text x="604.7" y="191.6" font-size="18.85" font-weight="bold">Kaon</text>
<g fill="#66cccc" shape-rendering="crispEdges"><rect x="596" y="207" width="3" height="7"/><rect x="594" y="209" width="7" height="3"/></g>
<text x="604.7" y="216.6" font-size="18.85" font-weight="bold">Proton</text>
<polygon points="598.5,232.5 600.3,236.3 598.2,239.2 595.8,236.3" fill="#000000"/>
<text x="604.7" y="241.6" font-size="18.85" font-weight="bold">Ghost</text>
</g></g>
<text transform="translate(121.3,907.4) scale(1,1.075)" text-anchor="end" font-size="27.9" font-weight="bold">0</text>
<text transform="translate(121.3,827.4) scale(1,1.075)" text-anchor="end" font-size="27.9" font-weight="bold">0.05</text>
<text transform="translate(121.3,747.4) scale(1,1.075)" text-anchor="end" font-size="27.9" font-weight="bold">0.1</text>
<text transform="translate(121.3,667.4) scale(1,1.075)" text-anchor="end" font-size="27.9" font-weight="bold">0.15</text>
<text transform="translate(121.3,587.4) scale(1,1.075)" text-anchor="end" font-size="27.9" font-weight="bold">0.2</text>
<text transform="translate(121.3,507.4) scale(1,1.075)" text-anchor="end" font-size="27.9" font-weight="bold">0.25</text>
<text transform="translate(121.3,427.4) scale(1,1.075)" text-anchor="end" font-size="27.9" font-weight="bold">0.3</text>
<text transform="translate(121.3,347.4) scale(1,1.075)" text-anchor="end" font-size="27.9" font-weight="bold">0.35</text>
<text transform="translate(121.3,267.4) scale(1,1.075)" text-anchor="end" font-size="27.9" font-weight="bold">0.4</text>
<text transform="translate(121.3,187.4) scale(1,1.075)" text-anchor="end" font-size="27.9" font-weight="bold">0.45</text>
<text transform="translate(215.8,935) scale(1,1.075)" text-anchor="middle" font-size="27.9" font-weight="bold">-1</text>
<text transform="translate(374.8,935) scale(1,1.075)" text-anchor="middle" font-size="27.9" font-weight="bold">0</text>
<text transform="translate(534.8,935) scale(1,1.075)" text-anchor="middle" font-size="27.9" font-weight="bold">1</text>
<text transform="translate(694.8,935) scale(1,1.075)" text-anchor="middle" font-size="27.9" font-weight="bold">2</text>
<text transform="translate(853.8,935) scale(1,1.075)" text-anchor="middle" font-size="27.9" font-weight="bold">3</text>
<text transform="translate(1013.8,935) scale(1,1.075)" text-anchor="middle" font-size="27.9" font-weight="bold">4</text>
<text transform="translate(1148,971) scale(1,1.057)" text-anchor="end" font-size="27.97" font-weight="bold">Long Electron BremPIDe</text>
<text transform="translate(638,42) scale(1,1.09)" text-anchor="middle" font-size="9.035" font-weight="bold" text-rendering="geometricPrecision">BremPIDe Kaon Long | All NaturalMix AllPhysTracksInEvent:AllPhysTracksInEvent ReweightRICH2 EvalNoPreSel | Train:MixtureNoGhosts-Eval:MixtureGhosts | TMVA-NoPreSels-NoGECs | MLP Norm BP NCycles750 CE sigmoid SF1.4 CVTest15:1e-16 !UseReg</text>
</svg>
</body></html>
